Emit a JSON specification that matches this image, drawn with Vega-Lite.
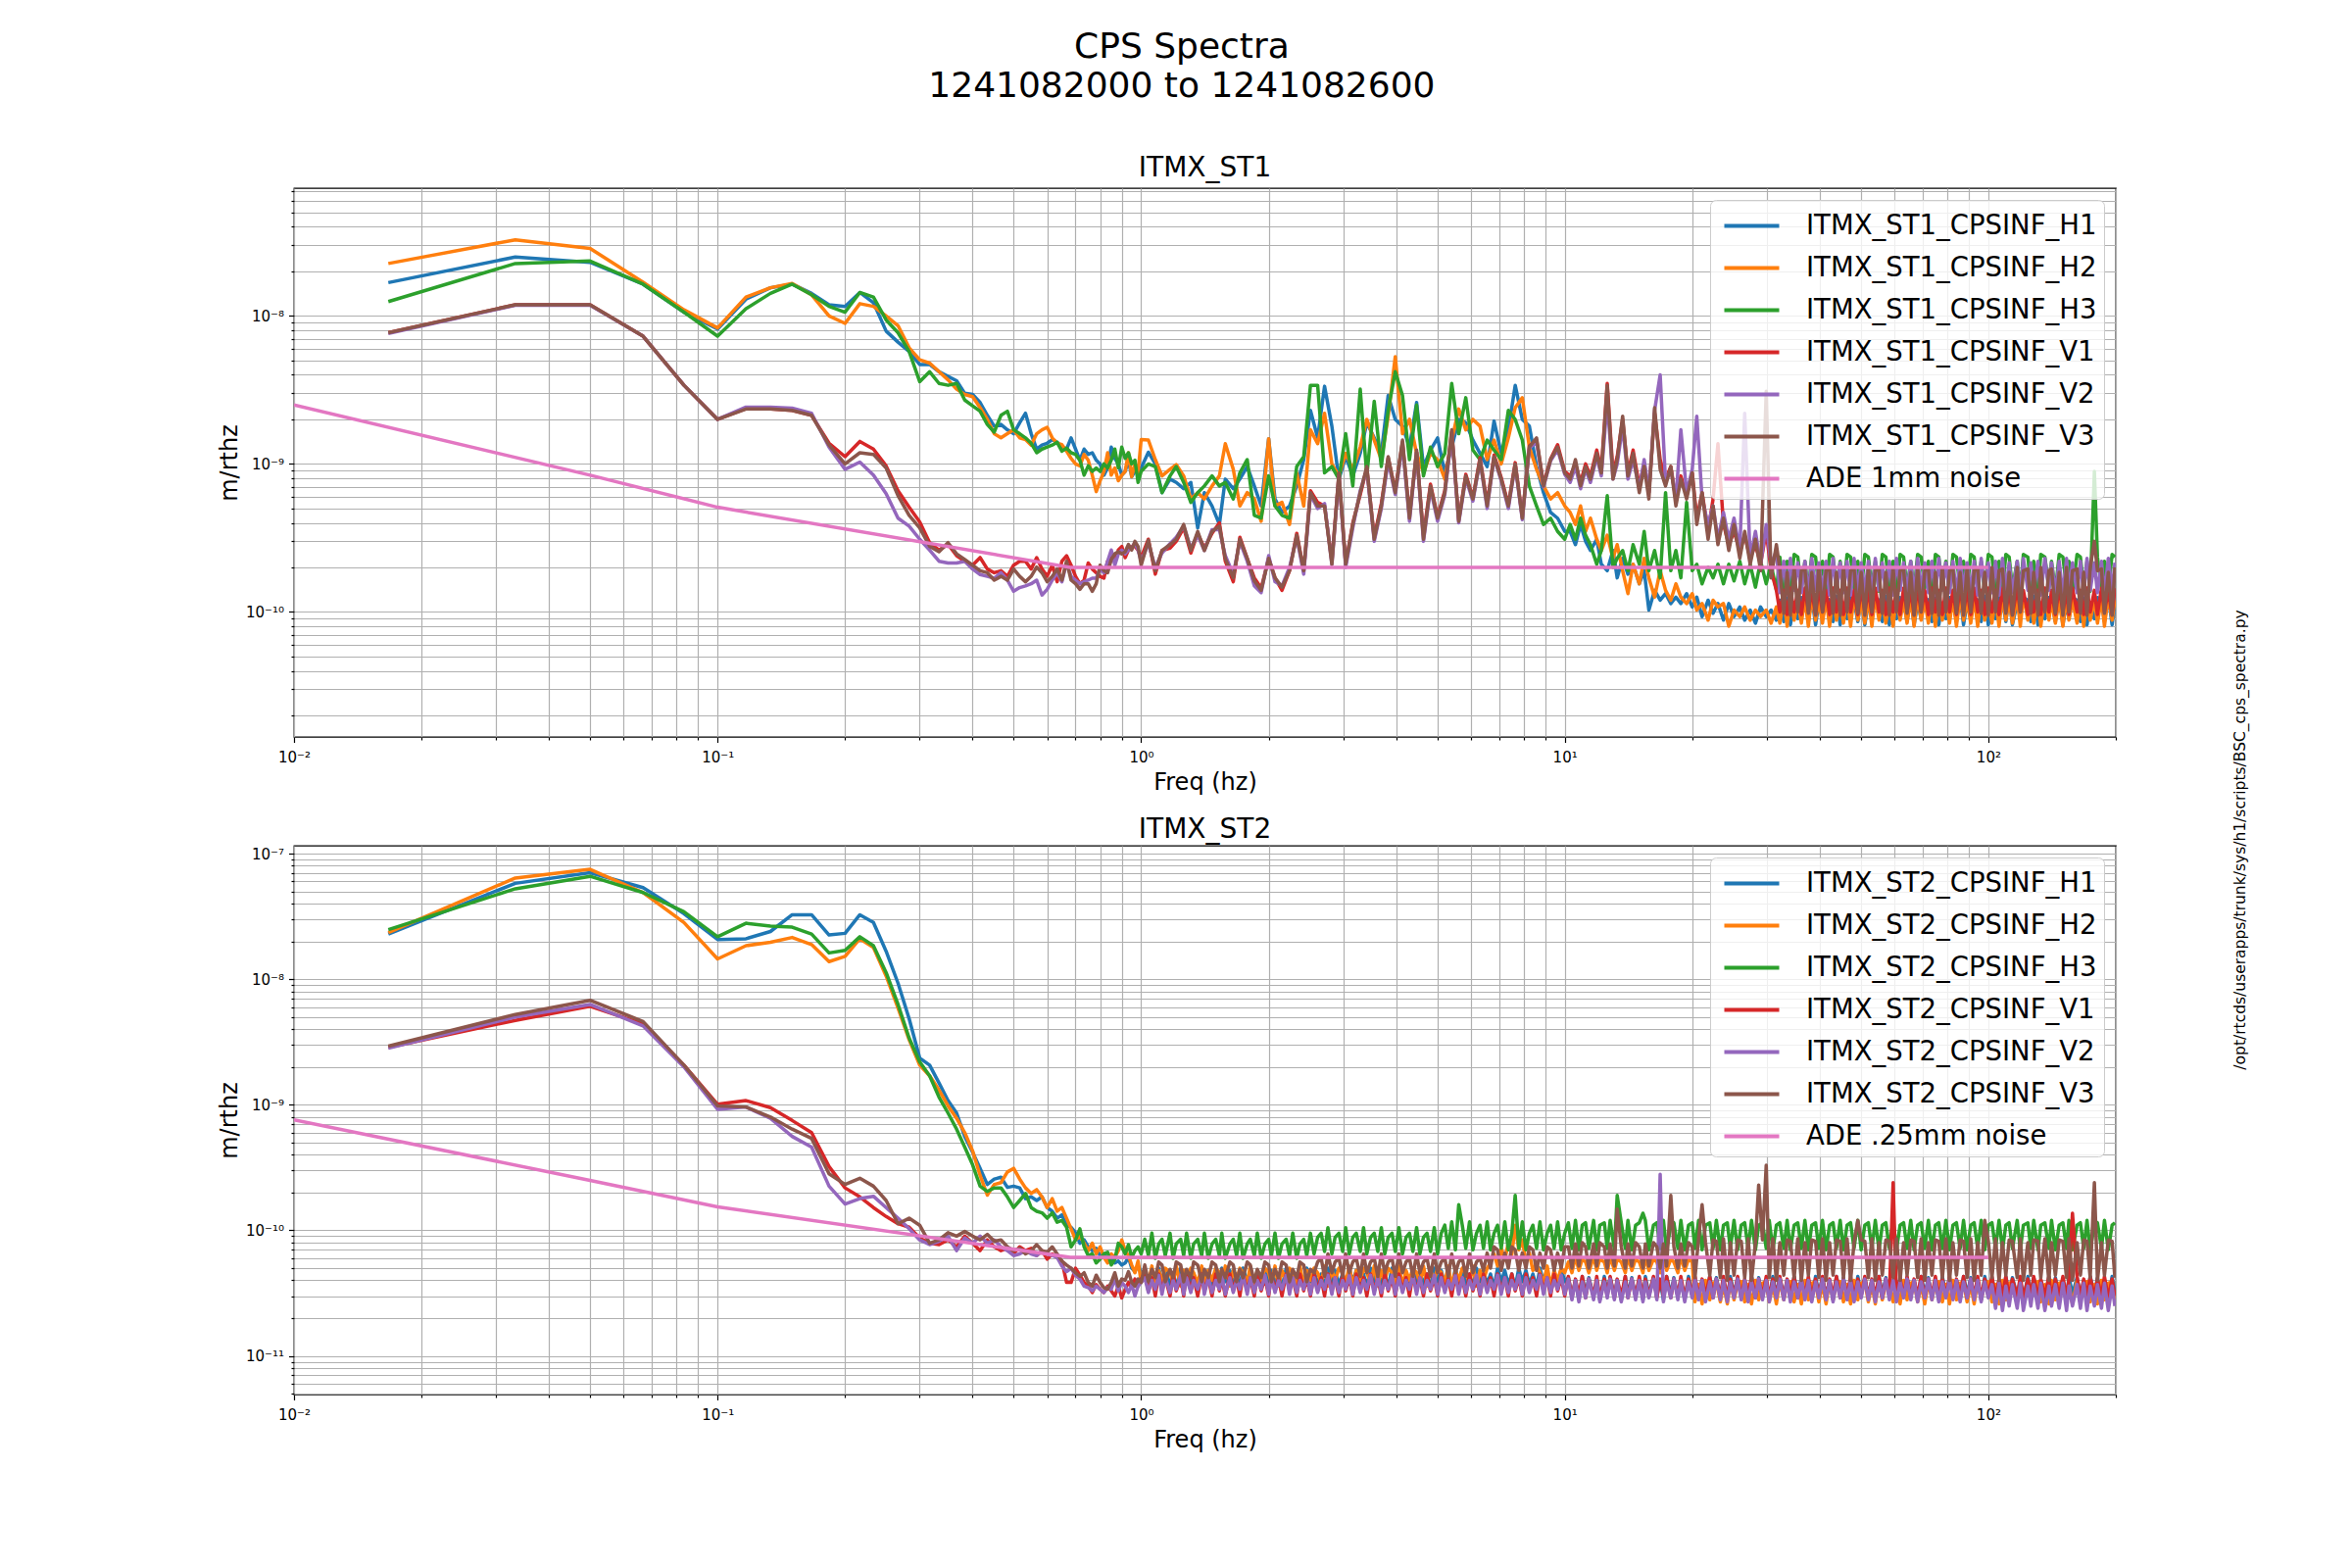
{
  "$schema": "https://vega.github.io/schema/vega-lite/v6.json",
  "background": "white",
  "padding": {"left": 221, "top": 30, "right": 10, "bottom": 10},
  "title": {
    "text": ["CPS Spectra", "1241082000 to 1241082600"],
    "fontSize": 36,
    "lineHeight": 40,
    "fontWeight": "normal",
    "anchor": "middle",
    "offset": 50,
    "dx": -53
  },
  "config": {
    "font": "DejaVu Sans",
    "view": {"stroke": "black", "strokeWidth": 1.3},
    "axis": {
      "domain": false,
      "grid": true,
      "gridColor": "#b0b0b0",
      "gridWidth": 1.2,
      "tickColor": "black",
      "tickWidth": 1.2,
      "labelColor": "black",
      "labelFontSize": 15,
      "labelOverlap": false,
      "labelFlush": false,
      "titleFontSize": 24,
      "titleFontWeight": "normal",
      "titleColor": "black"
    },
    "axisX": {"labelPadding": 8},
    "axisY": {"labelPadding": 5},
    "title": {"fontWeight": "normal", "color": "black"},
    "legend": {
      "title": null,
      "orient": "top-right",
      "offset": 12,
      "labelFontSize": 27.5,
      "labelColor": "black",
      "labelLimit": 0,
      "symbolType": "M-1.6,0H1.6",
      "symbolSize": 1225,
      "symbolStrokeWidth": 4,
      "symbolOffset": 16,
      "labelOffset": 36,
      "rowPadding": 10,
      "padding": 7,
      "fillColor": "rgba(255,255,255,0.8)",
      "strokeColor": "#cccccc",
      "cornerRadius": 6
    }
  },
  "datasets": {
    "ade1": [
      {"f": 0.01, "v": 2.5e-9, "s": "ADE"},
      {"f": 0.05, "v": 8.4e-10, "s": "ADE"},
      {"f": 0.1, "v": 5.1e-10, "s": "ADE"},
      {"f": 0.68, "v": 2.0e-10, "s": "ADE"},
      {"f": 100, "v": 2.0e-10, "s": "ADE"}
    ],
    "ade2": [
      {"f": 0.01, "v": 7.6e-10, "s": "ADE"},
      {"f": 0.05, "v": 2.5e-10, "s": "ADE"},
      {"f": 0.1, "v": 1.54e-10, "s": "ADE"},
      {"f": 0.68, "v": 6.1e-11, "s": "ADE"},
      {"f": 100, "v": 6.1e-11, "s": "ADE"}
    ],
    "st1": [
      {"f":0.0167,"H1":1.68e-8,"H2":2.26e-8,"H3":1.25e-8,"V1":7.7e-9,"V2":7.6e-9,"V3":7.7e-9},
      {"f":0.0333,"H1":2.5e-8,"H2":3.27e-8,"H3":2.26e-8,"V1":1.19e-8,"V2":1.18e-8,"V3":1.19e-8},
      {"f":0.05,"H1":2.3e-8,"H2":2.86e-8,"H3":2.35e-8,"V1":1.19e-8,"V2":1.18e-8,"V3":1.19e-8},
      {"f":0.0667,"H1":1.64e-8,"H2":1.69e-8,"H3":1.64e-8,"V1":7.3e-9,"V2":7.3e-9,"V3":7.3e-9},
      {"f":0.0833,"H1":1.06e-8,"H2":1.1e-8,"H3":1.06e-8,"V1":3.4e-9,"V2":3.4e-9,"V3":3.4e-9},
      {"f":0.1,"H1":8.15e-9,"H2":8.3e-9,"H3":7.3e-9,"V1":2.0e-9,"V2":2.0e-9,"V3":2.0e-9},
      {"f":0.1167,"H1":1.3e-8,"H2":1.34e-8,"H3":1.12e-8,"V1":2.37e-9,"V2":2.42e-9,"V3":2.35e-9},
      {"f":0.1333,"H1":1.55e-8,"H2":1.55e-8,"H3":1.42e-8,"V1":2.35e-9,"V2":2.42e-9,"V3":2.35e-9},
      {"f":0.15,"H1":1.64e-8,"H2":1.66e-8,"H3":1.64e-8,"V1":2.3e-9,"V2":2.38e-9,"V3":2.3e-9},
      {"f":0.1667,"H1":1.42e-8,"H2":1.39e-8,"H3":1.39e-8,"V1":2.13e-9,"V2":2.2e-9,"V3":2.13e-9},
      {"f":0.1833,"H1":1.19e-8,"H2":1.0e-8,"H3":1.16e-8,"V1":1.38e-9,"V2":1.3e-9,"V3":1.34e-9},
      {"f":0.2,"H1":1.16e-8,"H2":8.9e-9,"H3":1.06e-8,"V1":1.12e-9,"V2":9.2e-10,"V3":1.0e-9},
      {"f":0.2167,"H1":1.44e-8,"H2":1.21e-8,"H3":1.44e-8,"V1":1.42e-9,"V2":1.03e-9,"V3":1.19e-9},
      {"f":0.2333,"H1":1.23e-8,"H2":1.16e-8,"H3":1.34e-8,"V1":1.26e-9,"V2":8.4e-10,"V3":1.16e-9},
      {"f":0.25,"H1":7.9e-9,"H2":1.0e-8,"H3":9.4e-9,"V1":9.7e-10,"V2":6.3e-10,"V3":9.4e-10},
      {"f":0.2667,"H1":6.65e-9,"H2":8.6e-9,"H3":7.7e-9,"V1":6.6e-10,"V2":4.3e-10,"V3":6.1e-10},
      {"f":0.2833,"H1":5.75e-9,"H2":6.1e-9,"H3":5.75e-9,"V1":5.1e-10,"V2":3.8e-10,"V3":4.5e-10},
      {"f":0.3,"H1":4.7e-9,"H2":5.05e-9,"H3":3.6e-9,"V1":4.06e-10,"V2":3.1e-10,"V3":3.7e-10},
      {"f":0.3167,"H1":4.7e-9,"H2":4.8e-9,"H3":4.2e-9,"V1":2.94e-10,"V2":2.62e-10,"V3":2.78e-10},
      {"f":0.3333,"H1":4.2e-9,"H2":4.2e-9,"H3":3.5e-9,"V1":2.62e-10,"V2":2.2e-10,"V3":2.55e-10},
      {"f":0.35,"H1":3.9e-9,"H2":3.7e-9,"H3":3.4e-9,"V1":2.86e-10,"V2":2.14e-10,"V3":2.94e-10},
      {"f":0.3667,"H1":3.65e-9,"H2":3.2e-9,"H3":3.5e-9,"V1":2.4e-10,"V2":2.14e-10,"V3":2.47e-10},
      {"f":0.3833,"H1":3.0e-9,"H2":2.95e-9,"H3":2.7e-9,"V1":2.2e-10,"V2":2.2e-10,"V3":2.26e-10},
      {"f":0.4,"H1":2.95e-9,"H2":2.85e-9,"H3":2.47e-9,"V1":2.07e-10,"V2":1.95e-10,"V3":2.07e-10},
      {"f":0.4167,"H1":2.6e-9,"H2":2.4e-9,"H3":2.27e-9,"V1":2.33e-10,"V2":1.79e-10,"V3":1.9e-10},
      {"f":0.4333,"H1":2.13e-9,"H2":2.0e-9,"H3":1.85e-9,"V1":1.95e-10,"V2":1.74e-10,"V3":1.84e-10},
      {"f":0.45,"H1":1.8e-9,"H2":1.6e-9,"H3":1.64e-9,"V1":1.84e-10,"V2":1.69e-10,"V3":1.64e-10},
      {"f":0.4667,"H1":1.85e-9,"H2":1.5e-9,"H3":2.13e-9,"V1":1.9e-10,"V2":1.84e-10,"V3":1.74e-10},
      {"f":0.4833,"H1":1.7e-9,"H2":1.6e-9,"H3":2.27e-9,"V1":1.74e-10,"V2":1.64e-10,"V3":1.64e-10},
      {"f":0.5,"H1":1.6e-9,"H2":1.7e-9,"H3":1.7e-9,"V1":2.07e-10,"V2":1.38e-10,"V3":1.95e-10},
      {"f":0.5167,"H1":1.9e-9,"H2":1.5e-9,"H3":1.6e-9,"V1":2.2e-10,"V2":1.46e-10,"V3":1.74e-10},
      {"f":0.5333,"H1":2.2e-9,"H2":1.46e-9,"H3":1.5e-9,"V1":2.2e-10,"V2":1.5e-10,"V3":1.6e-10},
      {"f":0.55,"H1":1.6e-9,"H2":1.34e-9,"H3":1.38e-9,"V1":1.95e-10,"V2":1.55e-10,"V3":1.74e-10},
      {"f":0.5667,"H1":1.26e-9,"H2":1.6e-9,"H3":1.19e-9,"V1":2.33e-10,"V2":1.64e-10,"V3":2.01e-10},
      {"f":0.5833,"H1":1.34e-9,"H2":1.7e-9,"H3":1.26e-9,"V1":1.95e-10,"V2":1.3e-10,"V3":1.84e-10},
      {"f":0.6,"H1":1.38e-9,"H2":1.77e-9,"H3":1.3e-9,"V1":1.74e-10,"V2":1.42e-10,"V3":1.6e-10},
      {"f":0.6167,"H1":1.46e-9,"H2":1.5e-9,"H3":1.34e-9,"V1":2.07e-10,"V2":1.64e-10,"V3":1.74e-10},
      {"f":0.6333,"H1":1.4e-9,"H2":1.38e-9,"H3":1.4e-9,"V1":1.6e-10,"V2":1.84e-10,"V3":1.95e-10},
      {"f":0.65,"H1":1.3e-9,"H2":1.35e-9,"H3":1.22e-9,"V1":2.2e-10,"V2":1.6e-10,"V3":1.64e-10},
      {"f":0.6667,"H1":1.26e-9,"H2":1.22e-9,"H3":1.28e-9,"V1":2.4e-10,"V2":2.14e-10,"V3":2.2e-10},
      {"f":0.6833,"H1":1.5e-9,"H2":1.09e-9,"H3":1.19e-9,"V1":2.07e-10,"V2":1.74e-10,"V3":1.64e-10},
      {"f":0.7,"H1":1.26e-9,"H2":1.0e-9,"H3":1.16e-9,"V1":1.74e-10,"V2":1.64e-10,"V3":1.55e-10},
      {"f":0.7167,"H1":1.06e-9,"H2":9.7e-10,"H3":1.06e-9,"V1":1.55e-10,"V2":1.55e-10,"V3":1.42e-10},
      {"f":0.7333,"H1":1.26e-9,"H2":1.16e-9,"H3":8.4e-10,"V1":1.64e-10,"V2":1.6e-10,"V3":1.55e-10},
      {"f":0.75,"H1":1.16e-9,"H2":1.06e-9,"H3":9.7e-10,"V1":2.14e-10,"V2":1.64e-10,"V3":1.55e-10},
      {"f":0.7667,"H1":1.19e-9,"H2":8.4e-10,"H3":8.9e-10,"V1":1.95e-10,"V2":1.69e-10,"V3":1.38e-10},
      {"f":0.7833,"H1":1.06e-9,"H2":6.5e-10,"H3":9.4e-10,"V1":1.84e-10,"V2":1.69e-10,"V3":1.55e-10},
      {"f":0.8,"H1":1.0e-9,"H2":7.7e-10,"H3":8.9e-10,"V1":1.74e-10,"V2":1.95e-10,"V3":2.07e-10},
      {"f":0.8167,"H1":8.4e-10,"H2":8.9e-10,"H3":1.0e-9,"V1":1.69e-10,"V2":1.84e-10,"V3":1.9e-10},
      {"f":0.8333,"H1":9.4e-10,"H2":1.19e-9,"H3":9.4e-10,"V1":2.2e-10,"V2":2.2e-10,"V3":1.84e-10},
      {"f":0.85,"H1":1.3e-9,"H2":8.4e-10,"H3":1.06e-9,"V1":2.33e-10,"V2":2.62e-10,"V3":2.26e-10},
      {"f":0.8667,"H1":1.09e-9,"H2":9.4e-10,"H3":1.26e-9,"V1":2.2e-10,"V2":2.07e-10,"V3":2.47e-10},
      {"f":0.8833,"H1":1.0e-9,"H2":7.7e-10,"H3":9.4e-10,"V1":2.62e-10,"V2":2.47e-10,"V3":2.55e-10},
      {"f":0.9,"H1":8.4e-10,"H2":8.4e-10,"H3":1.3e-9,"V1":2.77e-10,"V2":2.62e-10,"V3":2.47e-10},
      {"f":0.9167,"H1":8.9e-10,"H2":8.9e-10,"H3":1.09e-9,"V1":2.33e-10,"V2":2.47e-10,"V3":2.55e-10},
      {"f":0.9333,"H1":1.06e-9,"H2":1.19e-9,"H3":1.19e-9,"V1":2.62e-10,"V2":2.62e-10,"V3":2.86e-10},
      {"f":0.95,"H1":8.2e-10,"H2":8.2e-10,"H3":1.0e-9,"V1":2.77e-10,"V2":2.7e-10,"V3":2.62e-10},
      {"f":0.9667,"H1":8.9e-10,"H2":1.0e-9,"H3":1.06e-9,"V1":2.77e-10,"V2":2.94e-10,"V3":3.0e-10},
      {"f":0.9833,"H1":8.9e-10,"H2":8.7e-10,"H3":7.5e-10,"V1":2.62e-10,"V2":2.62e-10,"V3":2.77e-10},
      {"f":1.0,"H1":9.4e-10,"H2":1.46e-9,"H3":8.9e-10,"V1":2.33e-10,"V2":2.2e-10,"V3":2.07e-10},
      {"f":1.04,"H1":1.2e-9,"H2":1.45e-9,"H3":1.0e-9,"V1":3.1e-10,"V2":2.9e-10,"V3":3.05e-10},
      {"f":1.08,"H1":1.0e-9,"H2":1.07e-9,"H3":9.6e-10,"V1":1.8e-10,"V2":2.0e-10,"V3":1.9e-10},
      {"f":1.12,"H1":6.4e-10,"H2":8.3e-10,"H3":6.4e-10,"V1":2.6e-10,"V2":2.5e-10,"V3":2.6e-10},
      {"f":1.17,"H1":7.9e-10,"H2":9.2e-10,"H3":8.3e-10,"V1":2.7e-10,"V2":2.9e-10,"V3":2.85e-10},
      {"f":1.21,"H1":7.5e-10,"H2":9.9e-10,"H3":9.6e-10,"V1":3.0e-10,"V2":3.2e-10,"V3":3.1e-10},
      {"f":1.26,"H1":6.8e-10,"H2":8.3e-10,"H3":7.5e-10,"V1":3.7e-10,"V2":3.8e-10,"V3":3.9e-10},
      {"f":1.31,"H1":7.5e-10,"H2":5.8e-10,"H3":5.5e-10,"V1":2.5e-10,"V2":2.7e-10,"V3":2.6e-10},
      {"f":1.36,"H1":3.7e-10,"H2":6.4e-10,"H3":6.4e-10,"V1":3.4e-10,"V2":3.3e-10,"V3":3.5e-10},
      {"f":1.41,"H1":6.4e-10,"H2":5.8e-10,"H3":7.1e-10,"V1":2.7e-10,"V2":2.6e-10,"V3":2.6e-10},
      {"f":1.47,"H1":5.2e-10,"H2":7.1e-10,"H3":8.3e-10,"V1":3.4e-10,"V2":3.6e-10,"V3":3.5e-10},
      {"f":1.53,"H1":3.9e-10,"H2":8.3e-10,"H3":7.1e-10,"V1":4.0e-10,"V2":3.6e-10,"V3":3.8e-10},
      {"f":1.58,"H1":7.9e-10,"H2":1.37e-9,"H3":7.5e-10,"V1":2.2e-10,"V2":2.4e-10,"V3":2.3e-10},
      {"f":1.65,"H1":6.8e-10,"H2":9.2e-10,"H3":5.8e-10,"V1":1.6e-10,"V2":1.8e-10,"V3":1.7e-10},
      {"f":1.71,"H1":7.9e-10,"H2":5.2e-10,"H3":8.7e-10,"V1":3.2e-10,"V2":3.0e-10,"V3":3.1e-10},
      {"f":1.78,"H1":9.6e-10,"H2":6.4e-10,"H3":1.07e-9,"V1":2.3e-10,"V2":2.2e-10,"V3":2.3e-10},
      {"f":1.85,"H1":7.1e-10,"H2":5.8e-10,"H3":4.5e-10,"V1":1.7e-10,"V2":1.5e-10,"V3":1.62e-10},
      {"f":1.92,"H1":5.2e-10,"H2":4.1e-10,"H3":4.3e-10,"V1":1.45e-10,"V2":1.35e-10,"V3":1.4e-10},
      {"f":2.0,"H1":1.48e-9,"H2":1.48e-9,"H3":8.3e-10,"V1":2.3e-10,"V2":2.4e-10,"V3":2.3e-10},
      {"f":2.07,"H1":5.8e-10,"H2":5.2e-10,"H3":5.2e-10,"V1":1.7e-10,"V2":1.6e-10,"V3":1.7e-10},
      {"f":2.15,"H1":4.7e-10,"H2":5.5e-10,"H3":4.5e-10,"V1":1.4e-10,"V2":1.5e-10,"V3":1.47e-10},
      {"f":2.24,"H1":5.2e-10,"H2":3.9e-10,"H3":4.3e-10,"V1":1.9e-10,"V2":2.0e-10,"V3":1.9e-10},
      {"f":2.33,"H1":7.1e-10,"H2":8.7e-10,"H3":9.6e-10,"V1":3.4e-10,"V2":3.2e-10,"V3":3.3e-10},
      {"f":2.42,"H1":1.07e-9,"H2":5.2e-10,"H3":1.12e-9,"V1":1.9e-10,"V2":1.8e-10,"V3":1.9e-10},
      {"f":2.51,"H1":2.3e-9,"H2":1.7e-9,"H3":3.4e-9,"V1":6.6e-10,"V2":6.2e-10,"V3":6.4e-10},
      {"f":2.61,"H1":1.5e-9,"H2":1.37e-9,"H3":3.4e-9,"V1":5.5e-10,"V2":5.0e-10,"V3":5.2e-10},
      {"f":2.71,"H1":3.35e-9,"H2":2.2e-9,"H3":8.7e-10,"V1":5.2e-10,"V2":5.4e-10,"V3":5.2e-10},
      {"f":2.82,"H1":1.8e-9,"H2":1.0e-9,"H3":9.6e-10,"V1":2.2e-10,"V2":2.1e-10,"V3":2.1e-10},
      {"f":2.93,"H1":7.9e-10,"H2":8.3e-10,"H3":7.9e-10,"V1":8.5e-10,"V2":8.3e-10,"V3":8.7e-10},
      {"f":3.04,"H1":1.12e-9,"H2":1.18e-9,"H3":1.6e-9,"V1":2.1e-10,"V2":2.0e-10,"V3":2.1e-10},
      {"f":3.16,"H1":8.3e-10,"H2":9.2e-10,"H3":7.1e-10,"V1":4.0e-10,"V2":3.7e-10,"V3":3.9e-10},
      {"f":3.29,"H1":1.18e-9,"H2":1.3e-9,"H3":3.2e-9,"V1":6.2e-10,"V2":6.6e-10,"V3":6.4e-10},
      {"f":3.41,"H1":1.9e-9,"H2":2.0e-9,"H3":8.3e-10,"V1":9.4e-10,"V2":9.2e-10,"V3":9.6e-10},
      {"f":3.55,"H1":1.5e-9,"H2":1.45e-9,"H3":2.65e-9,"V1":3.2e-10,"V2":3.0e-10,"V3":3.1e-10},
      {"f":3.69,"H1":1.18e-9,"H2":1.07e-9,"H3":9.6e-10,"V1":5.4e-10,"V2":5.0e-10,"V3":5.2e-10},
      {"f":3.83,"H1":2.9e-9,"H2":2.1e-9,"H3":2.3e-9,"V1":1.1e-9,"V2":1.05e-9,"V3":1.12e-9},
      {"f":3.98,"H1":2.0e-9,"H2":5.3e-9,"H3":4.2e-9,"V1":6.6e-10,"V2":6.2e-10,"V3":6.4e-10},
      {"f":4.14,"H1":1.8e-9,"H2":1.6e-9,"H3":2.9e-9,"V1":1.4e-9,"V2":1.35e-9,"V3":1.45e-9},
      {"f":4.3,"H1":1.3e-9,"H2":2.0e-9,"H3":1.07e-9,"V1":4.5e-10,"V2":4.1e-10,"V3":4.3e-10},
      {"f":4.47,"H1":2.6e-9,"H2":1.18e-9,"H3":2.5e-9,"V1":1.2e-9,"V2":1.2e-9,"V3":1.24e-9},
      {"f":4.64,"H1":9.6e-10,"H2":8.7e-10,"H3":8.3e-10,"V1":3.3e-10,"V2":3.0e-10,"V3":3.1e-10},
      {"f":4.82,"H1":1.24e-9,"H2":1.18e-9,"H3":1.3e-9,"V1":7.3e-10,"V2":6.8e-10,"V3":7.1e-10},
      {"f":5.01,"H1":1.5e-9,"H2":1.07e-9,"H3":9.6e-10,"V1":4.4e-10,"V2":4.1e-10,"V3":4.3e-10},
      {"f":5.21,"H1":8.7e-10,"H2":7.9e-10,"H3":1.18e-9,"V1":6.6e-10,"V2":6.2e-10,"V3":6.4e-10},
      {"f":5.41,"H1":1.3e-9,"H2":1.45e-9,"H3":3.5e-9,"V1":1.65e-9,"V2":1.6e-9,"V3":1.7e-9},
      {"f":5.62,"H1":2.0e-9,"H2":2.35e-9,"H3":1.6e-9,"V1":4.2e-10,"V2":4.0e-10,"V3":4.1e-10},
      {"f":5.84,"H1":1.9e-9,"H2":1.7e-9,"H3":2.8e-9,"V1":8.5e-10,"V2":8.0e-10,"V3":8.3e-10},
      {"f":6.07,"H1":1.45e-9,"H2":2.0e-9,"H3":1.24e-9,"V1":5.9e-10,"V2":5.6e-10,"V3":5.8e-10},
      {"f":6.31,"H1":1.18e-9,"H2":1.8e-9,"H3":1.07e-9,"V1":1.1e-9,"V2":1.05e-9,"V3":1.07e-9},
      {"f":6.56,"H1":9.6e-10,"H2":1.07e-9,"H3":1.45e-9,"V1":5.4e-10,"V2":5.0e-10,"V3":5.2e-10},
      {"f":6.81,"H1":1.95e-9,"H2":1.45e-9,"H3":1.24e-9,"V1":1.15e-9,"V2":1.1e-9,"V3":1.12e-9},
      {"f":7.08,"H1":1.18e-9,"H2":1.0e-9,"H3":1.07e-9,"V1":8.1e-10,"V2":7.7e-10,"V3":7.9e-10},
      {"f":7.36,"H1":1.7e-9,"H2":1.5e-9,"H3":2.3e-9,"V1":5.3e-10,"V2":5.0e-10,"V3":5.2e-10},
      {"f":7.64,"H1":3.4e-9,"H2":2.4e-9,"H3":2.0e-9,"V1":1.02e-9,"V2":9.8e-10,"V3":1.0e-9},
      {"f":7.94,"H1":2.0e-9,"H2":2.8e-9,"H3":1.45e-9,"V1":4.4e-10,"V2":4.2e-10,"V3":4.3e-10},
      {"f":8.25,"H1":1.8e-9,"H2":1.3e-9,"H3":7.1e-10,"V1":1.32e-9,"V2":1.28e-9,"V3":1.3e-9},
      {"f":8.58,"H1":9.6e-10,"H2":9.2e-10,"H3":5.2e-10,"V1":1.45e-9,"V2":1.4e-9,"V3":1.5e-9},
      {"f":8.91,"H1":6.4e-10,"H2":7.1e-10,"H3":3.9e-10,"V1":7.3e-10,"V2":7.0e-10,"V3":7.1e-10},
      {"f":9.26,"H1":4.7e-10,"H2":5.8e-10,"H3":4.3e-10,"V1":1.08e-9,"V2":1.05e-9,"V3":1.07e-9},
      {"f":9.62,"H1":4.3e-10,"H2":6.4e-10,"H3":3.5e-10,"V1":1.35e-9,"V2":1.25e-9,"V3":1.3e-9},
      {"f":10,"H1":3.5e-10,"H2":5.2e-10,"H3":3.1e-10,"V1":8.9e-10,"V2":8.5e-10,"V3":8.7e-10},
      {"f":10.3,"H1":3.5e-10,"H2":4.7e-10,"H3":3.9e-10,"V1":8.3e-10,"V2":7.5e-10,"V3":7.9e-10},
      {"f":10.6,"H1":2.85e-10,"H2":3.9e-10,"H3":3.1e-10,"V1":1.0e-9,"V2":9.6e-10,"V3":1.07e-9},
      {"f":10.9,"H1":3.9e-10,"H2":5.2e-10,"H3":4.3e-10,"V1":7.5e-10,"V2":6.8e-10,"V3":7.1e-10},
      {"f":11.2,"H1":3.0e-10,"H2":3.5e-10,"H3":3.3e-10,"V1":1.0e-9,"V2":9.2e-10,"V3":9.6e-10},
      {"f":11.5,"H1":2.6e-10,"H2":4.3e-10,"H3":2.85e-10,"V1":8.3e-10,"V2":7.5e-10,"V3":7.9e-10},
      {"f":11.9,"H1":3.1e-10,"H2":3.1e-10,"H3":2.1e-10,"V1":1.24e-9,"V2":1.12e-9,"V3":1.18e-9},
      {"f":12.2,"H1":2.1e-10,"H2":2.6e-10,"H3":2.6e-10,"V1":9.2e-10,"V2":8.3e-10,"V3":8.7e-10},
      {"f":12.6,"H1":1.9e-10,"H2":3.3e-10,"H3":6.1e-10,"V1":3.5e-9,"V2":2.65e-9,"V3":3.4e-9},
      {"f":13.0,"H1":2.6e-10,"H2":2.3e-10,"H3":2.0e-10,"V1":8.7e-10,"V2":7.9e-10,"V3":7.9e-10},
      {"f":13.3,"H1":1.7e-10,"H2":2.85e-10,"H3":2.3e-10,"V1":1.12e-9,"V2":1.0e-9,"V3":1.07e-9},
      {"f":13.7,"H1":2.3e-10,"H2":1.9e-10,"H3":2.6e-10,"V1":2.0e-9,"V2":1.8e-9,"V3":2.1e-9},
      {"f":14.1,"H1":1.8e-10,"H2":1.33e-10,"H3":1.9e-10,"V1":8.7e-10,"V2":7.9e-10,"V3":8.3e-10},
      {"f":14.5,"H1":2.1e-10,"H2":2.1e-10,"H3":2.85e-10,"V1":1.24e-9,"V2":1.07e-9,"V3":1.18e-9},
      {"f":15.0,"H1":1.55e-10,"H2":1.55e-10,"H3":2.1e-10,"V1":7.1e-10,"V2":6.8e-10,"V3":6.4e-10},
      {"f":15.4,"H1":1.9e-10,"H2":2.3e-10,"H3":3.5e-10,"V1":1.0e-9,"V2":1.07e-9,"V3":9.6e-10},
      {"f":15.8,"H1":1.03e-10,"H2":1.7e-10,"H3":1.9e-10,"V1":6.4e-10,"V2":6.4e-10,"V3":5.8e-10},
      {"f":16.3,"H1":1.4e-10,"H2":1.26e-10,"H3":2.6e-10,"V1":2.2e-9,"V2":2.3e-9,"V3":2.4e-9},
      {"f":16.8,"H1":1.2e-10,"H2":1.9e-10,"H3":1.7e-10,"V1":1.07e-9,"V2":4.0e-9,"V3":9.2e-10},
      {"f":17.3,"H1":1.33e-10,"H2":1.4e-10,"H3":6.4e-10,"V1":7.9e-10,"V2":7.5e-10,"V3":7.1e-10},
      {"f":17.8,"H1":1.14e-10,"H2":1.2e-10,"H3":1.9e-10,"V1":9.6e-10,"V2":9.2e-10,"V3":9.6e-10},
      {"f":18.3,"H1":1.26e-10,"H2":1.55e-10,"H3":2.6e-10,"V1":5.8e-10,"V2":5.8e-10,"V3":5.2e-10},
      {"f":18.8,"H1":1.14e-10,"H2":1.26e-10,"H3":1.7e-10,"V1":8.3e-10,"V2":1.7e-9,"V3":7.9e-10},
      {"f":19.4,"H1":1.33e-10,"H2":1.14e-10,"H3":5.5e-10,"V1":6.1e-10,"V2":6.4e-10,"V3":5.8e-10},
      {"f":20.0,"H1":1.08e-10,"H2":1.33e-10,"H3":1.9e-10,"V1":8.7e-10,"V2":9.2e-10,"V3":8.7e-10},
      {"f":20.5,"H1":1.26e-10,"H2":1.03e-10,"H3":2.1e-10,"V1":4.3e-10,"V2":2.1e-9,"V3":3.9e-10},
      {"f":21.1,"H1":9.3e-11,"H2":1.14e-10,"H3":1.55e-10,"V1":6.4e-10,"V2":5.8e-10,"V3":6.4e-10},
      {"f":21.8,"H1":1.2e-10,"H2":8.8e-11,"H3":2.0e-10,"V1":3.5e-10,"V2":3.9e-10,"V3":3.1e-10},
      {"f":22.4,"H1":9.8e-11,"H2":1.2e-10,"H3":1.7e-10,"V1":5.8e-10,"V2":5.2e-10,"V3":5.2e-10},
      {"f":23.0,"H1":1.14e-10,"H2":1.08e-10,"H3":2.1e-10,"V1":1.37e-9,"V2":3.1e-10,"V3":2.85e-10},
      {"f":23.7,"H1":8.8e-11,"H2":1.14e-10,"H3":1.55e-10,"V1":3.9e-10,"V2":4.7e-10,"V3":4.3e-10},
      {"f":24.4,"H1":1.14e-10,"H2":8.0e-11,"H3":2.1e-10,"V1":2.85e-10,"V2":3.1e-10,"V3":2.6e-10},
      {"f":25.1,"H1":9.3e-11,"H2":1.03e-10,"H3":1.62e-10,"V1":3.5e-10,"V2":4.3e-10,"V3":3.9e-10},
      {"f":25.9,"H1":1.08e-10,"H2":9.3e-11,"H3":2.2e-10,"V1":2.6e-10,"V2":2.6e-10,"V3":2.3e-10},
      {"f":26.6,"H1":8.8e-11,"H2":1.08e-10,"H3":1.55e-10,"V1":3.3e-10,"V2":2.2e-9,"V3":3.5e-10},
      {"f":27.4,"H1":1.03e-10,"H2":8.8e-11,"H3":2.1e-10,"V1":2.3e-10,"V2":2.3e-10,"V3":2.1e-10},
      {"f":28.2,"H1":8.4e-11,"H2":1.03e-10,"H3":1.47e-10,"V1":2.85e-10,"V2":3.5e-10,"V3":3.1e-10},
      {"f":29.0,"H1":1.08e-10,"H2":9.3e-11,"H3":2.2e-10,"V1":2.1e-10,"V2":2.1e-10,"V3":1.9e-10},
      {"f":29.9,"H1":9.3e-11,"H2":1.03e-10,"H3":1.55e-10,"V1":3.5e-10,"V2":3.9e-10,"V3":3.1e-9},
      {"f":30.7,"H1":1.03e-10,"H2":8.4e-11,"H3":2.1e-10,"V1":1.9e-10,"V2":2.1e-10,"V3":1.7e-10},
      {"f":31.6,"H1":8.8e-11,"H2":1.08e-10,"H3":1.4e-10,"V1":1.4e-10,"V2":2.6e-10,"V3":2.85e-10},
      {"f":32.2,"H1":1.2e-10,"H2":8.4e-11,"H3":2.35e-10,"V1":1.0e-10,"V2":1.35e-10,"V3":1.95e-10},
      {"f":32.9,"H1":8.6e-11,"H2":1.25e-10,"H3":1.45e-10,"V1":1.4e-10,"V2":2.2e-10,"V3":9.8e-11},
      {"f":33.5,"H1":1.28e-10,"H2":8.0e-11,"H3":2.2e-10,"V1":9.6e-11,"V2":1.3e-10,"V3":1.85e-10},
      {"f":34.1,"H1":8.2e-11,"H2":1.3e-10,"H3":1.38e-10,"V1":1.45e-10,"V2":2.3e-10,"V3":9.5e-11},
      {"f":34.8,"H1":1.15e-10,"H2":8.8e-11,"H3":2.45e-10,"V1":1.0e-10,"V2":1.4e-10,"V3":2.0e-10},
      {"f":35.5,"H1":9.0e-11,"H2":1.2e-10,"H3":2.35e-10,"V1":1.4e-10,"V2":2.15e-10,"V3":1.0e-10},
      {"f":36.2,"H1":1.25e-10,"H2":8.4e-11,"H3":1.45e-10,"V1":9.6e-11,"V2":1.35e-10,"V3":1.9e-10},
      {"f":36.9,"H1":1.2e-10,"H2":1.25e-10,"H3":2.2e-10,"V1":1.45e-10,"V2":2.2e-10,"V3":1.95e-10},
      {"f":37.6,"H1":8.6e-11,"H2":8.0e-11,"H3":1.38e-10,"V1":1.0e-10,"V2":1.3e-10,"V3":9.8e-11},
      {"f":38.3,"H1":1.28e-10,"H2":1.3e-10,"H3":2.45e-10,"V1":1.4e-10,"V2":2.3e-10,"V3":1.85e-10},
      {"f":39.1,"H1":8.2e-11,"H2":8.8e-11,"H3":2.35e-10,"V1":9.6e-11,"V2":1.4e-10,"V3":9.5e-11},
      {"f":39.8,"H1":1.15e-10,"H2":1.2e-10,"H3":1.45e-10,"V1":1.45e-10,"V2":2.15e-10,"V3":2.0e-10},
      {"f":40.6,"H1":9.0e-11,"H2":8.4e-11,"H3":2.2e-10,"V1":1.0e-10,"V2":1.35e-10,"V3":1.0e-10},
      {"f":41.4,"H1":1.25e-10,"H2":1.25e-10,"H3":1.38e-10,"V1":1.4e-10,"V2":2.2e-10,"V3":1.9e-10},
      {"f":42.2,"H1":1.2e-10,"H2":8.0e-11,"H3":2.45e-10,"V1":9.6e-11,"V2":1.3e-10,"V3":1.95e-10},
      {"f":43.0,"H1":8.6e-11,"H2":1.3e-10,"H3":2.35e-10,"V1":1.45e-10,"V2":2.3e-10,"V3":9.8e-11},
      {"f":43.8,"H1":1.28e-10,"H2":8.8e-11,"H3":1.45e-10,"V1":1.0e-10,"V2":1.4e-10,"V3":1.85e-10},
      {"f":44.7,"H1":8.2e-11,"H2":1.2e-10,"H3":2.2e-10,"V1":1.4e-10,"V2":2.15e-10,"V3":9.5e-11},
      {"f":45.5,"H1":1.15e-10,"H2":8.4e-11,"H3":1.38e-10,"V1":9.6e-11,"V2":1.35e-10,"V3":2.0e-10},
      {"f":46.4,"H1":9.0e-11,"H2":1.25e-10,"H3":2.45e-10,"V1":1.45e-10,"V2":2.2e-10,"V3":1.0e-10},
      {"f":47.3,"H1":1.25e-10,"H2":8.0e-11,"H3":2.35e-10,"V1":1.0e-10,"V2":1.3e-10,"V3":1.9e-10},
      {"f":48.2,"H1":1.2e-10,"H2":1.3e-10,"H3":1.45e-10,"V1":1.4e-10,"V2":2.3e-10,"V3":1.95e-10},
      {"f":49.2,"H1":8.6e-11,"H2":8.8e-11,"H3":2.2e-10,"V1":9.6e-11,"V2":1.4e-10,"V3":9.8e-11},
      {"f":50.1,"H1":1.28e-10,"H2":1.2e-10,"H3":1.38e-10,"V1":1.45e-10,"V2":2.15e-10,"V3":1.85e-10},
      {"f":51.1,"H1":8.2e-11,"H2":8.4e-11,"H3":2.45e-10,"V1":1.0e-10,"V2":1.35e-10,"V3":9.5e-11},
      {"f":52.1,"H1":1.15e-10,"H2":1.25e-10,"H3":2.35e-10,"V1":1.4e-10,"V2":2.2e-10,"V3":2.0e-10},
      {"f":53.1,"H1":9.0e-11,"H2":8.0e-11,"H3":1.45e-10,"V1":9.6e-11,"V2":1.3e-10,"V3":1.0e-10},
      {"f":54.1,"H1":1.25e-10,"H2":1.3e-10,"H3":2.2e-10,"V1":1.45e-10,"V2":2.3e-10,"V3":1.9e-10},
      {"f":55.2,"H1":1.2e-10,"H2":8.8e-11,"H3":1.38e-10,"V1":1.0e-10,"V2":1.4e-10,"V3":1.95e-10},
      {"f":56.2,"H1":8.6e-11,"H2":1.2e-10,"H3":2.45e-10,"V1":1.4e-10,"V2":2.15e-10,"V3":9.8e-11},
      {"f":57.3,"H1":1.28e-10,"H2":8.4e-11,"H3":2.35e-10,"V1":9.6e-11,"V2":1.35e-10,"V3":1.85e-10},
      {"f":58.4,"H1":8.2e-11,"H2":1.25e-10,"H3":1.45e-10,"V1":1.45e-10,"V2":2.2e-10,"V3":9.5e-11},
      {"f":59.6,"H1":1.15e-10,"H2":8.0e-11,"H3":2.2e-10,"V1":1.0e-10,"V2":1.3e-10,"V3":2.0e-10},
      {"f":60.7,"H1":9.0e-11,"H2":1.3e-10,"H3":1.38e-10,"V1":1.4e-10,"V2":2.3e-10,"V3":1.0e-10},
      {"f":61.9,"H1":1.25e-10,"H2":8.8e-11,"H3":2.45e-10,"V1":9.6e-11,"V2":1.4e-10,"V3":1.9e-10},
      {"f":63.1,"H1":1.2e-10,"H2":1.2e-10,"H3":2.35e-10,"V1":1.45e-10,"V2":2.15e-10,"V3":1.95e-10},
      {"f":64.3,"H1":8.6e-11,"H2":8.4e-11,"H3":1.45e-10,"V1":1.0e-10,"V2":1.35e-10,"V3":9.8e-11},
      {"f":65.6,"H1":1.28e-10,"H2":1.25e-10,"H3":2.2e-10,"V1":1.4e-10,"V2":2.2e-10,"V3":1.85e-10},
      {"f":66.8,"H1":8.2e-11,"H2":8.0e-11,"H3":1.38e-10,"V1":9.6e-11,"V2":1.3e-10,"V3":9.5e-11},
      {"f":68.1,"H1":1.15e-10,"H2":1.3e-10,"H3":2.45e-10,"V1":1.45e-10,"V2":2.3e-10,"V3":2.0e-10},
      {"f":69.4,"H1":9.0e-11,"H2":8.8e-11,"H3":2.35e-10,"V1":1.0e-10,"V2":1.4e-10,"V3":1.0e-10},
      {"f":70.8,"H1":1.25e-10,"H2":1.2e-10,"H3":1.45e-10,"V1":1.4e-10,"V2":2.15e-10,"V3":1.9e-10},
      {"f":72.2,"H1":1.2e-10,"H2":8.4e-11,"H3":2.2e-10,"V1":9.6e-11,"V2":1.35e-10,"V3":1.95e-10},
      {"f":73.6,"H1":8.6e-11,"H2":1.25e-10,"H3":1.38e-10,"V1":1.45e-10,"V2":2.2e-10,"V3":9.8e-11},
      {"f":75.0,"H1":1.28e-10,"H2":8.0e-11,"H3":2.45e-10,"V1":1.0e-10,"V2":1.3e-10,"V3":1.85e-10},
      {"f":76.4,"H1":8.2e-11,"H2":1.3e-10,"H3":2.35e-10,"V1":1.4e-10,"V2":2.3e-10,"V3":9.5e-11},
      {"f":77.9,"H1":1.15e-10,"H2":8.8e-11,"H3":1.45e-10,"V1":9.6e-11,"V2":1.4e-10,"V3":2.0e-10},
      {"f":79.4,"H1":9.0e-11,"H2":1.2e-10,"H3":2.2e-10,"V1":1.45e-10,"V2":2.15e-10,"V3":1.0e-10},
      {"f":81.0,"H1":1.25e-10,"H2":8.4e-11,"H3":1.38e-10,"V1":1.0e-10,"V2":1.35e-10,"V3":1.9e-10},
      {"f":82.5,"H1":1.2e-10,"H2":1.25e-10,"H3":2.45e-10,"V1":1.4e-10,"V2":2.2e-10,"V3":1.95e-10},
      {"f":84.1,"H1":8.6e-11,"H2":8.0e-11,"H3":2.35e-10,"V1":9.6e-11,"V2":1.3e-10,"V3":9.8e-11},
      {"f":85.8,"H1":1.28e-10,"H2":1.3e-10,"H3":1.45e-10,"V1":1.45e-10,"V2":2.3e-10,"V3":1.85e-10},
      {"f":87.4,"H1":8.2e-11,"H2":8.8e-11,"H3":2.2e-10,"V1":1.0e-10,"V2":1.4e-10,"V3":9.5e-11},
      {"f":89.1,"H1":1.15e-10,"H2":1.2e-10,"H3":1.38e-10,"V1":1.4e-10,"V2":2.15e-10,"V3":2.0e-10},
      {"f":90.9,"H1":9.0e-11,"H2":8.4e-11,"H3":2.45e-10,"V1":9.6e-11,"V2":1.35e-10,"V3":1.0e-10},
      {"f":92.6,"H1":1.25e-10,"H2":1.25e-10,"H3":2.35e-10,"V1":1.45e-10,"V2":2.2e-10,"V3":1.9e-10},
      {"f":94.4,"H1":1.2e-10,"H2":8.0e-11,"H3":1.45e-10,"V1":1.0e-10,"V2":1.3e-10,"V3":1.95e-10},
      {"f":96.2,"H1":8.6e-11,"H2":1.3e-10,"H3":2.2e-10,"V1":1.4e-10,"V2":2.3e-10,"V3":9.8e-11},
      {"f":98.1,"H1":1.28e-10,"H2":8.8e-11,"H3":1.38e-10,"V1":9.6e-11,"V2":1.4e-10,"V3":1.85e-10},
      {"f":100,"H1":8.2e-11,"H2":1.2e-10,"H3":2.45e-10,"V1":1.45e-10,"V2":2.15e-10,"V3":9.5e-11},
      {"f":102,"H1":1.15e-10,"H2":8.4e-11,"H3":2.35e-10,"V1":1.0e-10,"V2":1.35e-10,"V3":2.0e-10},
      {"f":104,"H1":9.0e-11,"H2":1.25e-10,"H3":1.45e-10,"V1":1.4e-10,"V2":2.2e-10,"V3":1.0e-10},
      {"f":106,"H1":1.25e-10,"H2":8.0e-11,"H3":2.2e-10,"V1":9.6e-11,"V2":1.3e-10,"V3":1.9e-10},
      {"f":108,"H1":1.2e-10,"H2":1.3e-10,"H3":1.38e-10,"V1":1.45e-10,"V2":2.3e-10,"V3":1.95e-10},
      {"f":110,"H1":8.6e-11,"H2":8.8e-11,"H3":2.45e-10,"V1":1.0e-10,"V2":1.4e-10,"V3":9.8e-11},
      {"f":112,"H1":1.28e-10,"H2":1.2e-10,"H3":2.35e-10,"V1":1.4e-10,"V2":2.15e-10,"V3":1.85e-10},
      {"f":114,"H1":8.2e-11,"H2":8.4e-11,"H3":1.45e-10,"V1":9.6e-11,"V2":1.35e-10,"V3":9.5e-11},
      {"f":117,"H1":1.15e-10,"H2":1.25e-10,"H3":2.2e-10,"V1":1.45e-10,"V2":2.2e-10,"V3":2.0e-10},
      {"f":119,"H1":9.0e-11,"H2":8.0e-11,"H3":1.38e-10,"V1":1.0e-10,"V2":1.3e-10,"V3":1.0e-10},
      {"f":121,"H1":1.25e-10,"H2":1.3e-10,"H3":2.45e-10,"V1":1.4e-10,"V2":2.3e-10,"V3":1.9e-10},
      {"f":124,"H1":1.2e-10,"H2":8.8e-11,"H3":2.35e-10,"V1":9.6e-11,"V2":1.4e-10,"V3":1.95e-10},
      {"f":126,"H1":8.6e-11,"H2":1.2e-10,"H3":1.45e-10,"V1":1.45e-10,"V2":2.15e-10,"V3":9.8e-11},
      {"f":128,"H1":1.28e-10,"H2":8.4e-11,"H3":2.2e-10,"V1":1.0e-10,"V2":1.35e-10,"V3":1.85e-10},
      {"f":131,"H1":8.2e-11,"H2":1.25e-10,"H3":1.38e-10,"V1":1.4e-10,"V2":2.2e-10,"V3":9.5e-11},
      {"f":133,"H1":1.15e-10,"H2":8.0e-11,"H3":2.45e-10,"V1":9.6e-11,"V2":1.3e-10,"V3":2.0e-10},
      {"f":136,"H1":9.0e-11,"H2":1.3e-10,"H3":2.35e-10,"V1":1.45e-10,"V2":2.3e-10,"V3":1.0e-10},
      {"f":139,"H1":1.25e-10,"H2":8.8e-11,"H3":1.45e-10,"V1":1.0e-10,"V2":1.4e-10,"V3":1.9e-10},
      {"f":141,"H1":1.2e-10,"H2":1.2e-10,"H3":2.2e-10,"V1":1.4e-10,"V2":2.15e-10,"V3":1.95e-10},
      {"f":144,"H1":8.6e-11,"H2":8.4e-11,"H3":1.38e-10,"V1":9.6e-11,"V2":1.35e-10,"V3":9.8e-11},
      {"f":147,"H1":1.28e-10,"H2":1.25e-10,"H3":2.45e-10,"V1":1.45e-10,"V2":2.2e-10,"V3":1.85e-10},
      {"f":150,"H1":8.2e-11,"H2":8.0e-11,"H3":2.35e-10,"V1":1.0e-10,"V2":1.3e-10,"V3":9.5e-11},
      {"f":153,"H1":1.15e-10,"H2":1.3e-10,"H3":1.45e-10,"V1":1.4e-10,"V2":2.3e-10,"V3":2.0e-10},
      {"f":155,"H1":9.0e-11,"H2":8.8e-11,"H3":2.2e-10,"V1":9.6e-11,"V2":1.4e-10,"V3":1.0e-10},
      {"f":158,"H1":1.25e-10,"H2":1.2e-10,"H3":1.38e-10,"V1":1.45e-10,"V2":2.15e-10,"V3":1.9e-10},
      {"f":162,"H1":1.2e-10,"H2":8.4e-11,"H3":2.45e-10,"V1":1.0e-10,"V2":1.35e-10,"V3":1.95e-10},
      {"f":165,"H1":8.6e-11,"H2":1.25e-10,"H3":2.35e-10,"V1":1.4e-10,"V2":2.2e-10,"V3":9.8e-11},
      {"f":168,"H1":1.28e-10,"H2":8.0e-11,"H3":1.45e-10,"V1":9.6e-11,"V2":1.3e-10,"V3":1.85e-10},
      {"f":171,"H1":8.2e-11,"H2":1.3e-10,"H3":2.2e-10,"V1":1.45e-10,"V2":2.3e-10,"V3":9.5e-11},
      {"f":174,"H1":1.15e-10,"H2":8.8e-11,"H3":1.38e-10,"V1":1.0e-10,"V2":1.4e-10,"V3":2.0e-10},
      {"f":178,"H1":9.0e-11,"H2":1.2e-10,"H3":8.9e-10,"V1":1.4e-10,"V2":2.15e-10,"V3":3.0e-10},
      {"f":181,"H1":1.25e-10,"H2":8.4e-11,"H3":2.35e-10,"V1":9.6e-11,"V2":1.35e-10,"V3":1.9e-10},
      {"f":185,"H1":1.2e-10,"H2":1.25e-10,"H3":1.45e-10,"V1":1.45e-10,"V2":2.2e-10,"V3":1.95e-10},
      {"f":188,"H1":8.6e-11,"H2":8.0e-11,"H3":2.2e-10,"V1":1.0e-10,"V2":1.3e-10,"V3":9.8e-11},
      {"f":192,"H1":1.28e-10,"H2":1.3e-10,"H3":1.38e-10,"V1":1.4e-10,"V2":2.3e-10,"V3":1.85e-10},
      {"f":196,"H1":8.2e-11,"H2":8.8e-11,"H3":2.45e-10,"V1":9.6e-11,"V2":1.4e-10,"V3":9.5e-11},
      {"f":199,"H1":1.15e-10,"H2":1.2e-10,"H3":2.35e-10,"V1":1.45e-10,"V2":2.15e-10,"V3":2.0e-10}
    ],
    "st2": [
      {"f":0.0167,"H1":2.29e-8,"H2":2.35e-8,"H3":2.48e-8,"V1":2.87e-9,"V2":2.82e-9,"V3":2.93e-9},
      {"f":0.0333,"H1":5.8e-8,"H2":6.4e-8,"H3":5.25e-8,"V1":4.7e-9,"V2":5.0e-9,"V3":5.24e-9},
      {"f":0.05,"H1":7.05e-8,"H2":7.5e-8,"H3":6.6e-8,"V1":6.1e-9,"V2":6.3e-9,"V3":6.8e-9},
      {"f":0.0667,"H1":5.36e-8,"H2":4.9e-8,"H3":4.9e-8,"V1":4.4e-9,"V2":4.25e-9,"V3":4.6e-9},
      {"f":0.0833,"H1":3.33e-8,"H2":2.83e-8,"H3":3.44e-8,"V1":2.07e-9,"V2":2.0e-9,"V3":2.07e-9},
      {"f":0.1,"H1":2.07e-8,"H2":1.45e-8,"H3":2.18e-8,"V1":1.01e-9,"V2":9.2e-10,"V3":9.8e-10},
      {"f":0.1167,"H1":2.1e-8,"H2":1.85e-8,"H3":2.79e-8,"V1":1.08e-9,"V2":9.6e-10,"V3":9.6e-10},
      {"f":0.1333,"H1":2.4e-8,"H2":1.97e-8,"H3":2.65e-8,"V1":9.5e-10,"V2":7.8e-10,"V3":8.0e-10},
      {"f":0.15,"H1":3.26e-8,"H2":2.15e-8,"H3":2.6e-8,"V1":7.5e-10,"V2":5.6e-10,"V3":6.4e-10},
      {"f":0.1667,"H1":3.26e-8,"H2":1.89e-8,"H3":2.29e-8,"V1":6.0e-10,"V2":4.6e-10,"V3":5.4e-10},
      {"f":0.1833,"H1":2.25e-8,"H2":1.38e-8,"H3":1.62e-8,"V1":3.22e-10,"V2":2.25e-10,"V3":2.82e-10},
      {"f":0.2,"H1":2.32e-8,"H2":1.52e-8,"H3":1.7e-8,"V1":2.18e-10,"V2":1.62e-10,"V3":2.32e-10},
      {"f":0.2167,"H1":3.26e-8,"H2":2.1e-8,"H3":2.18e-8,"V1":1.85e-10,"V2":1.79e-10,"V3":2.6e-10},
      {"f":0.2333,"H1":2.83e-8,"H2":1.79e-8,"H3":1.85e-8,"V1":1.52e-10,"V2":1.87e-10,"V3":2.25e-10},
      {"f":0.25,"H1":1.67e-8,"H2":1.06e-8,"H3":1.13e-8,"V1":1.29e-10,"V2":1.52e-10,"V3":1.73e-10},
      {"f":0.2667,"H1":9.3e-9,"H2":5.9e-9,"H3":6.3e-9,"V1":1.13e-10,"V2":1.25e-10,"V3":1.13e-10},
      {"f":0.2833,"H1":4.85e-9,"H2":3.3e-9,"H3":3.4e-9,"V1":1.06e-10,"V2":1.03e-10,"V3":1.25e-10},
      {"f":0.3,"H1":2.36e-9,"H2":2.07e-9,"H3":2.2e-9,"V1":8.7e-11,"V2":8.4e-11,"V3":1.1e-10},
      {"f":0.3167,"H1":2.07e-9,"H2":1.7e-9,"H3":1.7e-9,"V1":7.9e-11,"V2":7.7e-11,"V3":7.9e-11},
      {"f":0.3333,"H1":1.49e-9,"H2":1.31e-9,"H3":1.15e-9,"V1":7.7e-11,"V2":8.2e-11,"V3":8.4e-11},
      {"f":0.35,"H1":1.08e-9,"H2":9.8e-10,"H3":8.6e-10,"V1":8.4e-11,"V2":9.0e-11,"V3":9.6e-11},
      {"f":0.3667,"H1":8.6e-10,"H2":7.8e-10,"H3":6.4e-10,"V1":7.4e-11,"V2":6.9e-11,"V3":9.0e-11},
      {"f":0.3833,"H1":5.6e-10,"H2":6.0e-10,"H3":4.6e-10,"V1":9.0e-11,"V2":8.7e-11,"V3":9.8e-11},
      {"f":0.4,"H1":4.2e-10,"H2":4.3e-10,"H3":3.33e-10,"V1":7.9e-11,"V2":7.9e-11,"V3":9.0e-11},
      {"f":0.4167,"H1":3.12e-10,"H2":2.74e-10,"H3":2.25e-10,"V1":6.9e-11,"V2":9.0e-11,"V3":8.4e-11},
      {"f":0.4333,"H1":2.32e-10,"H2":1.91e-10,"H3":2.04e-10,"V1":8.4e-11,"V2":7.9e-11,"V3":9.3e-11},
      {"f":0.45,"H1":2.56e-10,"H2":2.32e-10,"H3":2.18e-10,"V1":7.4e-11,"V2":8.4e-11,"V3":8.2e-11},
      {"f":0.4667,"H1":2.65e-10,"H2":2.4e-10,"H3":2.18e-10,"V1":6.9e-11,"V2":7.4e-11,"V3":8.4e-11},
      {"f":0.4833,"H1":2.2e-10,"H2":2.92e-10,"H3":1.85e-10,"V1":7.2e-11,"V2":6.9e-11,"V3":7.4e-11},
      {"f":0.5,"H1":2.25e-10,"H2":3.12e-10,"H3":1.52e-10,"V1":6.5e-11,"V2":6.3e-11,"V3":6.9e-11},
      {"f":0.5167,"H1":2.18e-10,"H2":2.56e-10,"H3":1.73e-10,"V1":7.4e-11,"V2":6.5e-11,"V3":7.2e-11},
      {"f":0.5333,"H1":1.79e-10,"H2":2.18e-10,"H3":1.97e-10,"V1":6.9e-11,"V2":6.9e-11,"V3":6.5e-11},
      {"f":0.55,"H1":1.85e-10,"H2":1.97e-10,"H3":1.52e-10,"V1":7.2e-11,"V2":6.5e-11,"V3":6.9e-11},
      {"f":0.5667,"H1":1.73e-10,"H2":2.11e-10,"H3":1.42e-10,"V1":6.3e-11,"V2":6.3e-11,"V3":7.7e-11},
      {"f":0.5833,"H1":1.85e-10,"H2":1.85e-10,"H3":1.38e-10,"V1":6.9e-11,"V2":6.9e-11,"V3":6.9e-11},
      {"f":0.6,"H1":1.52e-10,"H2":1.52e-10,"H3":1.25e-10,"V1":5.9e-11,"V2":6.5e-11,"V3":6.7e-11},
      {"f":0.6167,"H1":1.42e-10,"H2":1.79e-10,"H3":1.38e-10,"V1":6.5e-11,"V2":6.3e-11,"V3":7.4e-11},
      {"f":0.6333,"H1":1.25e-10,"H2":1.42e-10,"H3":1.16e-10,"V1":6.1e-11,"V2":6.1e-11,"V3":6.5e-11},
      {"f":0.65,"H1":1.33e-10,"H2":1.52e-10,"H3":1.2e-10,"V1":5.7e-11,"V2":5.2e-11,"V3":5.7e-11},
      {"f":0.6667,"H1":1.1e-10,"H2":1.25e-10,"H3":1.06e-10,"V1":3.85e-11,"V2":4.7e-11,"V3":5.3e-11},
      {"f":0.6833,"H1":1.06e-10,"H2":1.03e-10,"H3":7.4e-11,"V1":3.85e-11,"V2":5.0e-11,"V3":5.0e-11},
      {"f":0.7,"H1":9.6e-11,"H2":8.4e-11,"H3":8.4e-11,"V1":5.0e-11,"V2":4.4e-11,"V3":4.6e-11},
      {"f":0.7167,"H1":7.9e-11,"H2":9.0e-11,"H3":1.03e-10,"V1":4.4e-11,"V2":4.1e-11,"V3":4.3e-11},
      {"f":0.7333,"H1":8.4e-11,"H2":7.9e-11,"H3":7.4e-11,"V1":3.85e-11,"V2":3.6e-11,"V3":4.6e-11},
      {"f":0.75,"H1":7.4e-11,"H2":6.9e-11,"H3":6.3e-11,"V1":3.6e-11,"V2":3.5e-11,"V3":3.85e-11},
      {"f":0.7667,"H1":6.9e-11,"H2":7.9e-11,"H3":6.5e-11,"V1":3.2e-11,"V2":3.3e-11,"V3":3.6e-11},
      {"f":0.7833,"H1":7.2e-11,"H2":6.5e-11,"H3":5.5e-11,"V1":3.7e-11,"V2":3.6e-11,"V3":4.4e-11},
      {"f":0.8,"H1":6.3e-11,"H2":7.4e-11,"H3":5.9e-11,"V1":3.4e-11,"V2":3.4e-11,"V3":3.85e-11},
      {"f":0.8167,"H1":6.5e-11,"H2":6.1e-11,"H3":6.5e-11,"V1":3.2e-11,"V2":3.2e-11,"V3":3.5e-11},
      {"f":0.8333,"H1":5.9e-11,"H2":5.5e-11,"H3":6.7e-11,"V1":3.6e-11,"V2":3.5e-11,"V3":3.4e-11},
      {"f":0.85,"H1":6.1e-11,"H2":6.5e-11,"H3":5.3e-11,"V1":3.3e-11,"V2":3.4e-11,"V3":3.85e-11},
      {"f":0.8667,"H1":5.5e-11,"H2":6.1e-11,"H3":5.9e-11,"V1":3.0e-11,"V2":4.1e-11,"V3":4.6e-11},
      {"f":0.8833,"H1":5.7e-11,"H2":6.9e-11,"H3":7.9e-11,"V1":3.6e-11,"V2":3.3e-11,"V3":3.6e-11},
      {"f":0.9,"H1":5.3e-11,"H2":8.4e-11,"H3":7.4e-11,"V1":2.9e-11,"V2":3.85e-11,"V3":4.1e-11},
      {"f":0.9167,"H1":5.5e-11,"H2":6.9e-11,"H3":6.5e-11,"V1":3.4e-11,"V2":3.6e-11,"V3":4.0e-11},
      {"f":0.9333,"H1":6.1e-11,"H2":6.3e-11,"H3":7.7e-11,"V1":3.85e-11,"V2":3.2e-11,"V3":4.7e-11},
      {"f":0.95,"H1":5.0e-11,"H2":5.3e-11,"H3":6.1e-11,"V1":3.5e-11,"V2":3.7e-11,"V3":3.85e-11},
      {"f":0.9667,"H1":4.7e-11,"H2":4.6e-11,"H3":6.9e-11,"V1":4.1e-11,"V2":3.0e-11,"V3":3.6e-11},
      {"f":0.9833,"H1":5.3e-11,"H2":5.7e-11,"H3":7.4e-11,"V1":3.6e-11,"V2":3.6e-11,"V3":4.1e-11},
      {"f":1.0,"H1":4.6e-11,"H2":3.85e-11,"H3":6.5e-11,"V1":4.1e-11,"V2":3.85e-11,"V3":3.85e-11},
      {"f":1.02,"H1":4.8e-11,"H2":4.6e-11,"H3":8.5e-11,"V1":4.5e-11,"V2":4.2e-11,"V3":5.3e-11},
      {"f":1.04,"H1":3.7e-11,"H2":3.8e-11,"H3":6.3e-11,"V1":3.3e-11,"V2":3.2e-11,"V3":3.9e-11},
      {"f":1.06,"H1":4.5e-11,"H2":5.2e-11,"H3":9.5e-11,"V1":4.2e-11,"V2":4.0e-11,"V3":4.9e-11},
      {"f":1.08,"H1":3.5e-11,"H2":3.6e-11,"H3":6.0e-11,"V1":3.0e-11,"V2":3.4e-11,"V3":4.2e-11},
      {"f":1.10,"H1":5.0e-11,"H2":4.8e-11,"H3":7.8e-11,"V1":4.5e-11,"V2":4.4e-11,"V3":5.6e-11},
      {"f":1.12,"H1":3.9e-11,"H2":4.0e-11,"H3":8.5e-11,"V1":3.3e-11,"V2":3.1e-11,"V3":5.3e-11},
      {"f":1.14,"H1":4.8e-11,"H2":5.0e-11,"H3":6.3e-11,"V1":4.2e-11,"V2":4.2e-11,"V3":3.9e-11},
      {"f":1.17,"H1":3.7e-11,"H2":4.6e-11,"H3":9.5e-11,"V1":3.0e-11,"V2":3.2e-11,"V3":4.9e-11},
      {"f":1.19,"H1":4.5e-11,"H2":3.8e-11,"H3":6.0e-11,"V1":4.5e-11,"V2":4.0e-11,"V3":4.2e-11},
      {"f":1.21,"H1":3.5e-11,"H2":5.2e-11,"H3":7.8e-11,"V1":3.3e-11,"V2":3.4e-11,"V3":5.6e-11},
      {"f":1.24,"H1":5.0e-11,"H2":3.6e-11,"H3":8.5e-11,"V1":4.2e-11,"V2":4.4e-11,"V3":5.3e-11},
      {"f":1.26,"H1":3.9e-11,"H2":4.8e-11,"H3":6.3e-11,"V1":3.0e-11,"V2":3.1e-11,"V3":3.9e-11},
      {"f":1.28,"H1":4.8e-11,"H2":4.0e-11,"H3":9.5e-11,"V1":4.5e-11,"V2":4.2e-11,"V3":4.9e-11},
      {"f":1.31,"H1":3.7e-11,"H2":5.0e-11,"H3":6.0e-11,"V1":3.3e-11,"V2":3.2e-11,"V3":4.2e-11},
      {"f":1.33,"H1":4.5e-11,"H2":4.6e-11,"H3":7.8e-11,"V1":4.2e-11,"V2":4.0e-11,"V3":5.6e-11},
      {"f":1.36,"H1":3.5e-11,"H2":3.8e-11,"H3":8.5e-11,"V1":3.0e-11,"V2":3.4e-11,"V3":5.3e-11},
      {"f":1.39,"H1":5.0e-11,"H2":5.2e-11,"H3":6.3e-11,"V1":4.5e-11,"V2":4.4e-11,"V3":3.9e-11},
      {"f":1.41,"H1":3.9e-11,"H2":3.6e-11,"H3":9.5e-11,"V1":3.3e-11,"V2":3.1e-11,"V3":4.9e-11},
      {"f":1.44,"H1":4.8e-11,"H2":4.8e-11,"H3":6.0e-11,"V1":4.2e-11,"V2":4.2e-11,"V3":4.2e-11},
      {"f":1.47,"H1":3.7e-11,"H2":4.0e-11,"H3":7.8e-11,"V1":3.0e-11,"V2":3.2e-11,"V3":5.6e-11},
      {"f":1.50,"H1":4.5e-11,"H2":5.0e-11,"H3":8.5e-11,"V1":4.5e-11,"V2":4.0e-11,"V3":5.3e-11},
      {"f":1.53,"H1":3.5e-11,"H2":4.6e-11,"H3":6.3e-11,"V1":3.3e-11,"V2":3.4e-11,"V3":3.9e-11},
      {"f":1.55,"H1":5.0e-11,"H2":3.8e-11,"H3":9.5e-11,"V1":4.2e-11,"V2":4.4e-11,"V3":4.9e-11},
      {"f":1.58,"H1":3.9e-11,"H2":5.2e-11,"H3":6.0e-11,"V1":3.0e-11,"V2":3.1e-11,"V3":4.2e-11},
      {"f":1.62,"H1":4.8e-11,"H2":3.6e-11,"H3":7.8e-11,"V1":4.5e-11,"V2":4.2e-11,"V3":5.6e-11},
      {"f":1.65,"H1":3.7e-11,"H2":4.8e-11,"H3":8.5e-11,"V1":3.3e-11,"V2":3.2e-11,"V3":5.3e-11},
      {"f":1.68,"H1":4.5e-11,"H2":4.0e-11,"H3":6.3e-11,"V1":4.2e-11,"V2":4.0e-11,"V3":3.9e-11},
      {"f":1.71,"H1":3.5e-11,"H2":5.0e-11,"H3":9.5e-11,"V1":3.0e-11,"V2":3.4e-11,"V3":4.9e-11},
      {"f":1.74,"H1":5.0e-11,"H2":4.6e-11,"H3":6.0e-11,"V1":4.5e-11,"V2":4.4e-11,"V3":4.2e-11},
      {"f":1.78,"H1":3.9e-11,"H2":3.8e-11,"H3":7.8e-11,"V1":3.3e-11,"V2":3.1e-11,"V3":5.6e-11},
      {"f":1.81,"H1":4.8e-11,"H2":5.2e-11,"H3":8.5e-11,"V1":4.2e-11,"V2":4.2e-11,"V3":5.3e-11},
      {"f":1.85,"H1":3.7e-11,"H2":3.6e-11,"H3":6.3e-11,"V1":3.0e-11,"V2":3.2e-11,"V3":3.9e-11},
      {"f":1.88,"H1":4.5e-11,"H2":4.8e-11,"H3":9.5e-11,"V1":4.5e-11,"V2":4.0e-11,"V3":4.9e-11},
      {"f":1.92,"H1":3.5e-11,"H2":4.0e-11,"H3":6.0e-11,"V1":3.3e-11,"V2":3.4e-11,"V3":4.2e-11},
      {"f":1.96,"H1":5.0e-11,"H2":5.0e-11,"H3":7.8e-11,"V1":4.2e-11,"V2":4.4e-11,"V3":5.6e-11},
      {"f":2.00,"H1":3.9e-11,"H2":4.6e-11,"H3":8.5e-11,"V1":3.0e-11,"V2":3.1e-11,"V3":5.3e-11},
      {"f":2.03,"H1":4.8e-11,"H2":3.8e-11,"H3":6.3e-11,"V1":4.5e-11,"V2":4.2e-11,"V3":3.9e-11},
      {"f":2.07,"H1":3.7e-11,"H2":5.2e-11,"H3":9.5e-11,"V1":3.3e-11,"V2":3.2e-11,"V3":4.9e-11},
      {"f":2.11,"H1":4.5e-11,"H2":3.6e-11,"H3":6.0e-11,"V1":4.2e-11,"V2":4.0e-11,"V3":4.2e-11},
      {"f":2.15,"H1":3.5e-11,"H2":4.8e-11,"H3":7.8e-11,"V1":3.0e-11,"V2":3.4e-11,"V3":5.6e-11},
      {"f":2.20,"H1":5.0e-11,"H2":4.0e-11,"H3":8.5e-11,"V1":4.5e-11,"V2":4.4e-11,"V3":5.3e-11},
      {"f":2.24,"H1":3.9e-11,"H2":5.0e-11,"H3":6.3e-11,"V1":3.3e-11,"V2":3.1e-11,"V3":3.9e-11},
      {"f":2.28,"H1":4.8e-11,"H2":4.6e-11,"H3":9.5e-11,"V1":4.2e-11,"V2":4.2e-11,"V3":4.9e-11},
      {"f":2.33,"H1":3.7e-11,"H2":3.8e-11,"H3":6.0e-11,"V1":3.0e-11,"V2":3.2e-11,"V3":4.2e-11},
      {"f":2.37,"H1":4.5e-11,"H2":5.2e-11,"H3":7.8e-11,"V1":4.5e-11,"V2":4.0e-11,"V3":5.6e-11},
      {"f":2.42,"H1":3.5e-11,"H2":3.6e-11,"H3":8.5e-11,"V1":3.3e-11,"V2":3.4e-11,"V3":5.3e-11},
      {"f":2.46,"H1":5.0e-11,"H2":4.8e-11,"H3":6.3e-11,"V1":4.2e-11,"V2":4.4e-11,"V3":3.9e-11},
      {"f":2.51,"H1":3.9e-11,"H2":4.0e-11,"H3":9.5e-11,"V1":3.0e-11,"V2":3.1e-11,"V3":4.9e-11},
      {"f":2.56,"H1":4.8e-11,"H2":5.0e-11,"H3":6.5e-11,"V1":4.5e-11,"V2":4.2e-11,"V3":4.6e-11},
      {"f":2.61,"H1":3.7e-11,"H2":4.6e-11,"H3":8.8e-11,"V1":3.3e-11,"V2":3.2e-11,"V3":5.6e-11},
      {"f":2.66,"H1":4.5e-11,"H2":3.8e-11,"H3":9.5e-11,"V1":4.2e-11,"V2":4.0e-11,"V3":6.0e-11},
      {"f":2.71,"H1":3.5e-11,"H2":5.2e-11,"H3":6.8e-11,"V1":3.0e-11,"V2":3.4e-11,"V3":4.3e-11},
      {"f":2.76,"H1":5.0e-11,"H2":3.6e-11,"H3":1.05e-10,"V1":4.5e-11,"V2":4.4e-11,"V3":6.5e-11},
      {"f":2.82,"H1":3.9e-11,"H2":4.8e-11,"H3":6.5e-11,"V1":3.3e-11,"V2":3.1e-11,"V3":4.6e-11},
      {"f":2.87,"H1":4.8e-11,"H2":4.0e-11,"H3":8.8e-11,"V1":4.2e-11,"V2":4.2e-11,"V3":5.6e-11},
      {"f":2.93,"H1":3.7e-11,"H2":5.0e-11,"H3":9.5e-11,"V1":3.0e-11,"V2":3.2e-11,"V3":6.0e-11},
      {"f":2.99,"H1":4.5e-11,"H2":4.6e-11,"H3":6.8e-11,"V1":4.5e-11,"V2":4.0e-11,"V3":4.3e-11},
      {"f":3.04,"H1":3.5e-11,"H2":3.8e-11,"H3":1.05e-10,"V1":3.3e-11,"V2":3.4e-11,"V3":6.5e-11},
      {"f":3.10,"H1":5.0e-11,"H2":5.2e-11,"H3":6.5e-11,"V1":4.2e-11,"V2":4.4e-11,"V3":4.6e-11},
      {"f":3.16,"H1":3.9e-11,"H2":3.6e-11,"H3":8.8e-11,"V1":3.0e-11,"V2":3.1e-11,"V3":5.6e-11},
      {"f":3.22,"H1":4.8e-11,"H2":4.8e-11,"H3":9.5e-11,"V1":4.5e-11,"V2":4.2e-11,"V3":6.0e-11},
      {"f":3.29,"H1":3.7e-11,"H2":4.0e-11,"H3":6.8e-11,"V1":3.3e-11,"V2":3.2e-11,"V3":4.3e-11},
      {"f":3.35,"H1":4.5e-11,"H2":5.0e-11,"H3":1.05e-10,"V1":4.2e-11,"V2":4.0e-11,"V3":6.5e-11},
      {"f":3.41,"H1":3.5e-11,"H2":4.6e-11,"H3":6.5e-11,"V1":3.0e-11,"V2":3.4e-11,"V3":4.6e-11},
      {"f":3.48,"H1":5.0e-11,"H2":3.8e-11,"H3":8.8e-11,"V1":4.5e-11,"V2":4.4e-11,"V3":5.6e-11},
      {"f":3.55,"H1":3.9e-11,"H2":5.2e-11,"H3":9.5e-11,"V1":3.3e-11,"V2":3.1e-11,"V3":6.0e-11},
      {"f":3.62,"H1":4.8e-11,"H2":3.6e-11,"H3":6.8e-11,"V1":4.2e-11,"V2":4.2e-11,"V3":4.3e-11},
      {"f":3.69,"H1":3.7e-11,"H2":4.8e-11,"H3":1.05e-10,"V1":3.0e-11,"V2":3.2e-11,"V3":6.5e-11},
      {"f":3.76,"H1":4.5e-11,"H2":4.0e-11,"H3":6.5e-11,"V1":4.5e-11,"V2":4.0e-11,"V3":4.6e-11},
      {"f":3.83,"H1":3.5e-11,"H2":5.0e-11,"H3":8.8e-11,"V1":3.3e-11,"V2":3.4e-11,"V3":5.6e-11},
      {"f":3.91,"H1":5.0e-11,"H2":4.6e-11,"H3":9.5e-11,"V1":4.2e-11,"V2":4.4e-11,"V3":6.0e-11},
      {"f":3.98,"H1":3.9e-11,"H2":3.8e-11,"H3":6.8e-11,"V1":3.0e-11,"V2":3.1e-11,"V3":4.3e-11},
      {"f":4.06,"H1":4.8e-11,"H2":5.2e-11,"H3":1.05e-10,"V1":4.5e-11,"V2":4.2e-11,"V3":6.5e-11},
      {"f":4.14,"H1":3.7e-11,"H2":3.6e-11,"H3":6.5e-11,"V1":3.3e-11,"V2":3.2e-11,"V3":4.6e-11},
      {"f":4.22,"H1":4.5e-11,"H2":4.8e-11,"H3":8.8e-11,"V1":4.2e-11,"V2":4.0e-11,"V3":5.6e-11},
      {"f":4.30,"H1":3.5e-11,"H2":4.0e-11,"H3":9.5e-11,"V1":3.0e-11,"V2":3.4e-11,"V3":6.0e-11},
      {"f":4.38,"H1":5.0e-11,"H2":5.0e-11,"H3":6.8e-11,"V1":4.5e-11,"V2":4.4e-11,"V3":4.3e-11},
      {"f":4.47,"H1":3.9e-11,"H2":4.6e-11,"H3":1.05e-10,"V1":3.3e-11,"V2":3.1e-11,"V3":6.5e-11},
      {"f":4.55,"H1":4.8e-11,"H2":3.8e-11,"H3":6.5e-11,"V1":4.2e-11,"V2":4.2e-11,"V3":4.6e-11},
      {"f":4.64,"H1":3.7e-11,"H2":5.2e-11,"H3":8.8e-11,"V1":3.0e-11,"V2":3.2e-11,"V3":5.6e-11},
      {"f":4.73,"H1":4.5e-11,"H2":3.6e-11,"H3":9.5e-11,"V1":4.5e-11,"V2":4.0e-11,"V3":6.0e-11},
      {"f":4.82,"H1":3.5e-11,"H2":4.8e-11,"H3":6.8e-11,"V1":3.3e-11,"V2":3.4e-11,"V3":4.3e-11},
      {"f":4.92,"H1":5.0e-11,"H2":4.0e-11,"H3":1.05e-10,"V1":4.2e-11,"V2":4.4e-11,"V3":6.5e-11},
      {"f":5.01,"H1":3.9e-11,"H2":5.0e-11,"H3":6.5e-11,"V1":3.0e-11,"V2":3.1e-11,"V3":4.6e-11},
      {"f":5.11,"H1":4.8e-11,"H2":4.6e-11,"H3":9.5e-11,"V1":4.5e-11,"V2":4.2e-11,"V3":5.6e-11},
      {"f":5.21,"H1":3.7e-11,"H2":3.8e-11,"H3":1.1e-10,"V1":3.3e-11,"V2":3.2e-11,"V3":6.0e-11},
      {"f":5.31,"H1":4.5e-11,"H2":5.2e-11,"H3":7.2e-11,"V1":4.2e-11,"V2":4.0e-11,"V3":4.3e-11},
      {"f":5.41,"H1":3.5e-11,"H2":3.6e-11,"H3":1.17e-10,"V1":3.0e-11,"V2":3.4e-11,"V3":6.5e-11},
      {"f":5.52,"H1":5.0e-11,"H2":4.8e-11,"H3":7.0e-11,"V1":4.5e-11,"V2":4.4e-11,"V3":4.6e-11},
      {"f":5.62,"H1":3.9e-11,"H2":4.0e-11,"H3":1.6e-10,"V1":3.3e-11,"V2":3.1e-11,"V3":5.6e-11},
      {"f":5.73,"H1":4.8e-11,"H2":5.0e-11,"H3":1.1e-10,"V1":4.2e-11,"V2":4.2e-11,"V3":6.0e-11},
      {"f":5.84,"H1":3.7e-11,"H2":4.6e-11,"H3":7.2e-11,"V1":3.0e-11,"V2":3.2e-11,"V3":4.3e-11},
      {"f":5.96,"H1":4.5e-11,"H2":3.8e-11,"H3":1.17e-10,"V1":4.5e-11,"V2":4.0e-11,"V3":6.5e-11},
      {"f":6.07,"H1":3.5e-11,"H2":5.2e-11,"H3":7.0e-11,"V1":3.3e-11,"V2":3.4e-11,"V3":4.6e-11},
      {"f":6.19,"H1":5.0e-11,"H2":3.6e-11,"H3":9.5e-11,"V1":4.2e-11,"V2":4.4e-11,"V3":5.6e-11},
      {"f":6.31,"H1":3.9e-11,"H2":4.8e-11,"H3":1.1e-10,"V1":3.0e-11,"V2":3.1e-11,"V3":6.0e-11},
      {"f":6.43,"H1":4.8e-11,"H2":4.0e-11,"H3":7.2e-11,"V1":4.5e-11,"V2":4.2e-11,"V3":4.8e-11},
      {"f":6.56,"H1":3.7e-11,"H2":5.0e-11,"H3":1.17e-10,"V1":3.3e-11,"V2":3.2e-11,"V3":6.6e-11},
      {"f":6.68,"H1":4.5e-11,"H2":5.5e-11,"H3":7.0e-11,"V1":4.2e-11,"V2":4.0e-11,"V3":5.0e-11},
      {"f":6.81,"H1":3.5e-11,"H2":6.5e-11,"H3":9.5e-11,"V1":3.0e-11,"V2":3.4e-11,"V3":7.4e-11},
      {"f":6.94,"H1":5.0e-11,"H2":5.2e-11,"H3":1.1e-10,"V1":4.5e-11,"V2":4.4e-11,"V3":7.0e-11},
      {"f":7.08,"H1":3.9e-11,"H2":7.2e-11,"H3":7.2e-11,"V1":3.3e-11,"V2":3.1e-11,"V3":4.8e-11},
      {"f":7.22,"H1":4.8e-11,"H2":5.8e-11,"H3":1.17e-10,"V1":4.2e-11,"V2":4.2e-11,"V3":6.6e-11},
      {"f":7.36,"H1":3.7e-11,"H2":8.0e-11,"H3":7.0e-11,"V1":3.0e-11,"V2":3.2e-11,"V3":5.0e-11},
      {"f":7.50,"H1":4.5e-11,"H2":6.4e-11,"H3":9.5e-11,"V1":4.5e-11,"V2":4.0e-11,"V3":7.4e-11},
      {"f":7.64,"H1":3.5e-11,"H2":1.1e-10,"H3":1.9e-10,"V1":3.3e-11,"V2":3.4e-11,"V3":7.0e-11},
      {"f":7.79,"H1":5.0e-11,"H2":7.0e-11,"H3":7.2e-11,"V1":4.2e-11,"V2":4.4e-11,"V3":4.8e-11},
      {"f":7.94,"H1":3.9e-11,"H2":8.4e-11,"H3":1.17e-10,"V1":3.0e-11,"V2":3.1e-11,"V3":6.6e-11},
      {"f":8.10,"H1":4.8e-11,"H2":5.6e-11,"H3":7.0e-11,"V1":4.5e-11,"V2":4.2e-11,"V3":5.0e-11},
      {"f":8.25,"H1":3.7e-11,"H2":6.6e-11,"H3":9.5e-11,"V1":3.3e-11,"V2":3.2e-11,"V3":7.4e-11},
      {"f":8.41,"H1":4.5e-11,"H2":4.8e-11,"H3":1.1e-10,"V1":4.2e-11,"V2":4.0e-11,"V3":7.0e-11},
      {"f":8.58,"H1":3.5e-11,"H2":5.4e-11,"H3":7.2e-11,"V1":3.0e-11,"V2":3.4e-11,"V3":4.8e-11},
      {"f":8.74,"H1":5.0e-11,"H2":4.6e-11,"H3":1.17e-10,"V1":4.5e-11,"V2":4.4e-11,"V3":6.6e-11},
      {"f":8.91,"H1":3.9e-11,"H2":3.8e-11,"H3":7.0e-11,"V1":3.3e-11,"V2":3.1e-11,"V3":5.0e-11},
      {"f":9.09,"H1":4.8e-11,"H2":5.2e-11,"H3":9.5e-11,"V1":4.2e-11,"V2":4.2e-11,"V3":7.4e-11},
      {"f":9.26,"H1":3.7e-11,"H2":3.6e-11,"H3":1.1e-10,"V1":3.0e-11,"V2":3.2e-11,"V3":7.0e-11},
      {"f":9.44,"H1":4.5e-11,"H2":4.8e-11,"H3":7.2e-11,"V1":4.5e-11,"V2":4.0e-11,"V3":4.8e-11},
      {"f":9.62,"H1":3.5e-11,"H2":4.0e-11,"H3":1.17e-10,"V1":3.3e-11,"V2":3.4e-11,"V3":6.6e-11},
      {"f":9.81,"H1":5.0e-11,"H2":5.0e-11,"H3":7.0e-11,"V1":4.2e-11,"V2":4.4e-11,"V3":5.0e-11},
      {"f":10.0,"H1":3.9e-11,"H2":4.6e-11,"H3":9.5e-11,"V1":3.0e-11,"V2":3.1e-11,"V3":7.4e-11},
      {"f":10.2,"H1":4.2e-11,"H2":5.6e-11,"H3":1.15e-10,"V1":4.3e-11,"V2":4.1e-11,"V3":7.4e-11},
      {"f":10.4,"H1":3.0e-11,"H2":4.6e-11,"H3":7.2e-11,"V1":2.9e-11,"V2":2.8e-11,"V3":5.0e-11},
      {"f":10.6,"H1":4.0e-11,"H2":6.2e-11,"H3":1.2e-10,"V1":4.1e-11,"V2":4.0e-11,"V3":7.8e-11},
      {"f":10.8,"H1":2.8e-11,"H2":4.8e-11,"H3":7.0e-11,"V1":3.0e-11,"V2":2.7e-11,"V3":5.2e-11},
      {"f":11.0,"H1":4.3e-11,"H2":5.9e-11,"H3":1.1e-10,"V1":4.3e-11,"V2":3.9e-11,"V3":8.0e-11},
      {"f":11.2,"H1":3.1e-11,"H2":5.6e-11,"H3":1.15e-10,"V1":2.9e-11,"V2":2.9e-11,"V3":7.4e-11},
      {"f":11.4,"H1":4.2e-11,"H2":4.6e-11,"H3":7.2e-11,"V1":4.1e-11,"V2":4.1e-11,"V3":5.0e-11},
      {"f":11.7,"H1":3.0e-11,"H2":6.2e-11,"H3":1.2e-10,"V1":3.0e-11,"V2":2.8e-11,"V3":7.8e-11},
      {"f":11.9,"H1":4.0e-11,"H2":4.8e-11,"H3":7.0e-11,"V1":4.3e-11,"V2":4.0e-11,"V3":5.2e-11},
      {"f":12.1,"H1":2.8e-11,"H2":5.9e-11,"H3":1.1e-10,"V1":2.9e-11,"V2":2.7e-11,"V3":8.0e-11},
      {"f":12.4,"H1":4.3e-11,"H2":5.6e-11,"H3":1.15e-10,"V1":4.1e-11,"V2":3.9e-11,"V3":7.4e-11},
      {"f":12.6,"H1":3.1e-11,"H2":4.6e-11,"H3":7.2e-11,"V1":3.0e-11,"V2":2.9e-11,"V3":5.0e-11},
      {"f":12.8,"H1":4.2e-11,"H2":6.2e-11,"H3":1.2e-10,"V1":4.3e-11,"V2":4.1e-11,"V3":7.8e-11},
      {"f":13.1,"H1":3.0e-11,"H2":4.8e-11,"H3":7.0e-11,"V1":2.9e-11,"V2":2.8e-11,"V3":5.2e-11},
      {"f":13.3,"H1":4.0e-11,"H2":5.9e-11,"H3":1.9e-10,"V1":4.1e-11,"V2":4.0e-11,"V3":1.48e-10},
      {"f":13.6,"H1":2.8e-11,"H2":5.6e-11,"H3":1.15e-10,"V1":3.0e-11,"V2":2.7e-11,"V3":7.4e-11},
      {"f":13.9,"H1":4.3e-11,"H2":4.6e-11,"H3":7.2e-11,"V1":4.3e-11,"V2":3.9e-11,"V3":5.0e-11},
      {"f":14.1,"H1":3.1e-11,"H2":6.2e-11,"H3":1.2e-10,"V1":2.9e-11,"V2":2.9e-11,"V3":7.8e-11},
      {"f":14.4,"H1":4.2e-11,"H2":4.8e-11,"H3":7.0e-11,"V1":4.1e-11,"V2":4.1e-11,"V3":5.2e-11},
      {"f":14.7,"H1":3.0e-11,"H2":5.9e-11,"H3":1.1e-10,"V1":3.0e-11,"V2":2.8e-11,"V3":8.0e-11},
      {"f":15.0,"H1":4.0e-11,"H2":5.6e-11,"H3":1.15e-10,"V1":4.3e-11,"V2":4.0e-11,"V3":7.4e-11},
      {"f":15.3,"H1":2.8e-11,"H2":4.6e-11,"H3":1.37e-10,"V1":2.9e-11,"V2":2.7e-11,"V3":5.0e-11},
      {"f":15.5,"H1":4.3e-11,"H2":6.2e-11,"H3":1.2e-10,"V1":4.1e-11,"V2":3.9e-11,"V3":7.8e-11},
      {"f":15.8,"H1":3.1e-11,"H2":4.8e-11,"H3":7.0e-11,"V1":3.0e-11,"V2":2.9e-11,"V3":5.2e-11},
      {"f":16.2,"H1":4.2e-11,"H2":5.9e-11,"H3":1.1e-10,"V1":4.3e-11,"V2":4.1e-11,"V3":8.0e-11},
      {"f":16.5,"H1":3.0e-11,"H2":5.6e-11,"H3":1.15e-10,"V1":2.9e-11,"V2":2.8e-11,"V3":7.4e-11},
      {"f":16.8,"H1":4.0e-11,"H2":4.6e-11,"H3":7.2e-11,"V1":4.1e-11,"V2":2.8e-10,"V3":5.0e-11},
      {"f":17.1,"H1":2.8e-11,"H2":6.2e-11,"H3":1.2e-10,"V1":3.0e-11,"V2":2.7e-11,"V3":7.8e-11},
      {"f":17.4,"H1":4.3e-11,"H2":4.8e-11,"H3":7.0e-11,"V1":4.3e-11,"V2":3.9e-11,"V3":5.2e-11},
      {"f":17.8,"H1":3.1e-11,"H2":5.9e-11,"H3":1.1e-10,"V1":2.9e-11,"V2":2.9e-11,"V3":1.9e-10},
      {"f":18.1,"H1":4.2e-11,"H2":5.6e-11,"H3":1.15e-10,"V1":4.1e-11,"V2":4.1e-11,"V3":7.4e-11},
      {"f":18.5,"H1":3.0e-11,"H2":4.6e-11,"H3":7.2e-11,"V1":3.0e-11,"V2":2.8e-11,"V3":5.0e-11},
      {"f":18.8,"H1":4.0e-11,"H2":6.2e-11,"H3":1.2e-10,"V1":4.3e-11,"V2":4.0e-11,"V3":7.8e-11},
      {"f":19.2,"H1":2.8e-11,"H2":4.8e-11,"H3":7.0e-11,"V1":2.9e-11,"V2":2.7e-11,"V3":5.2e-11},
      {"f":19.6,"H1":4.3e-11,"H2":5.9e-11,"H3":1.1e-10,"V1":4.1e-11,"V2":3.9e-11,"V3":8.0e-11},
      {"f":20.0,"H1":3.1e-11,"H2":5.6e-11,"H3":1.15e-10,"V1":3.0e-11,"V2":2.9e-11,"V3":7.4e-11},
      {"f":20.3,"H1":4.2e-11,"H2":2.7e-11,"H3":7.2e-11,"V1":4.3e-11,"V2":4.1e-11,"V3":4.2e-11},
      {"f":20.7,"H1":3.0e-11,"H2":3.7e-11,"H3":1.2e-10,"V1":2.9e-11,"V2":2.8e-11,"V3":8.6e-11},
      {"f":21.1,"H1":4.0e-11,"H2":2.6e-11,"H3":7.0e-11,"V1":4.1e-11,"V2":4.0e-11,"V3":1.6e-10},
      {"f":21.5,"H1":2.8e-11,"H2":4.0e-11,"H3":1.1e-10,"V1":3.0e-11,"V2":2.7e-11,"V3":8.0e-11},
      {"f":22.0,"H1":4.3e-11,"H2":2.8e-11,"H3":1.15e-10,"V1":4.3e-11,"V2":3.9e-11,"V3":4.4e-11},
      {"f":22.4,"H1":3.1e-11,"H2":3.8e-11,"H3":7.2e-11,"V1":2.9e-11,"V2":2.9e-11,"V3":8.4e-11},
      {"f":22.8,"H1":4.2e-11,"H2":3.9e-11,"H3":1.2e-10,"V1":4.1e-11,"V2":4.1e-11,"V3":8.2e-11},
      {"f":23.3,"H1":3.0e-11,"H2":2.7e-11,"H3":7.0e-11,"V1":3.0e-11,"V2":2.8e-11,"V3":4.2e-11},
      {"f":23.7,"H1":4.0e-11,"H2":3.7e-11,"H3":1.1e-10,"V1":4.3e-11,"V2":4.0e-11,"V3":8.6e-11},
      {"f":24.2,"H1":2.8e-11,"H2":2.6e-11,"H3":1.15e-10,"V1":2.9e-11,"V2":2.7e-11,"V3":4.0e-11},
      {"f":24.6,"H1":4.3e-11,"H2":4.0e-11,"H3":7.2e-11,"V1":4.1e-11,"V2":3.9e-11,"V3":8.0e-11},
      {"f":25.1,"H1":3.1e-11,"H2":2.8e-11,"H3":1.2e-10,"V1":3.0e-11,"V2":2.9e-11,"V3":4.4e-11},
      {"f":25.6,"H1":4.2e-11,"H2":3.8e-11,"H3":7.0e-11,"V1":4.3e-11,"V2":4.1e-11,"V3":8.4e-11},
      {"f":26.1,"H1":3.0e-11,"H2":3.9e-11,"H3":1.1e-10,"V1":2.9e-11,"V2":2.8e-11,"V3":8.2e-11},
      {"f":26.6,"H1":4.0e-11,"H2":2.7e-11,"H3":1.15e-10,"V1":4.1e-11,"V2":4.0e-11,"V3":4.2e-11},
      {"f":27.1,"H1":2.8e-11,"H2":3.7e-11,"H3":7.2e-11,"V1":3.0e-11,"V2":2.7e-11,"V3":8.6e-11},
      {"f":27.6,"H1":4.3e-11,"H2":2.6e-11,"H3":1.2e-10,"V1":4.3e-11,"V2":3.9e-11,"V3":4.0e-11},
      {"f":28.2,"H1":3.1e-11,"H2":4.0e-11,"H3":7.0e-11,"V1":2.9e-11,"V2":2.9e-11,"V3":8.0e-11},
      {"f":28.7,"H1":4.2e-11,"H2":2.8e-11,"H3":1.1e-10,"V1":4.1e-11,"V2":4.1e-11,"V3":2.3e-10},
      {"f":29.3,"H1":3.0e-11,"H2":3.8e-11,"H3":1.15e-10,"V1":3.0e-11,"V2":2.8e-11,"V3":8.4e-11},
      {"f":29.9,"H1":4.0e-11,"H2":3.9e-11,"H3":7.2e-11,"V1":4.3e-11,"V2":4.0e-11,"V3":3.3e-10},
      {"f":30.4,"H1":2.8e-11,"H2":2.7e-11,"H3":1.2e-10,"V1":2.9e-11,"V2":2.7e-11,"V3":4.2e-11},
      {"f":31.0,"H1":4.3e-11,"H2":3.7e-11,"H3":7.0e-11,"V1":4.1e-11,"V2":3.9e-11,"V3":8.6e-11},
      {"f":31.6,"H1":3.1e-11,"H2":2.6e-11,"H3":1.1e-10,"V1":3.0e-11,"V2":2.9e-11,"V3":4.0e-11},
      {"f":32.2,"H1":4.2e-11,"H2":4.0e-11,"H3":1.15e-10,"V1":4.3e-11,"V2":4.1e-11,"V3":8.0e-11},
      {"f":32.9,"H1":3.0e-11,"H2":2.8e-11,"H3":7.2e-11,"V1":2.9e-11,"V2":2.8e-11,"V3":4.4e-11},
      {"f":33.5,"H1":4.0e-11,"H2":3.8e-11,"H3":1.2e-10,"V1":4.1e-11,"V2":4.0e-11,"V3":8.4e-11},
      {"f":34.1,"H1":2.8e-11,"H2":3.9e-11,"H3":7.0e-11,"V1":3.0e-11,"V2":2.7e-11,"V3":8.2e-11},
      {"f":34.8,"H1":4.3e-11,"H2":2.7e-11,"H3":1.1e-10,"V1":4.3e-11,"V2":3.9e-11,"V3":4.2e-11},
      {"f":35.5,"H1":3.1e-11,"H2":3.7e-11,"H3":1.15e-10,"V1":2.9e-11,"V2":2.9e-11,"V3":8.6e-11},
      {"f":36.2,"H1":4.2e-11,"H2":2.6e-11,"H3":7.2e-11,"V1":4.1e-11,"V2":4.1e-11,"V3":4.0e-11},
      {"f":36.9,"H1":3.0e-11,"H2":4.0e-11,"H3":1.2e-10,"V1":3.0e-11,"V2":2.8e-11,"V3":8.0e-11},
      {"f":37.6,"H1":4.0e-11,"H2":2.8e-11,"H3":7.0e-11,"V1":4.3e-11,"V2":4.0e-11,"V3":4.4e-11},
      {"f":38.3,"H1":2.8e-11,"H2":3.8e-11,"H3":1.1e-10,"V1":2.9e-11,"V2":2.7e-11,"V3":8.4e-11},
      {"f":39.1,"H1":4.3e-11,"H2":3.9e-11,"H3":1.15e-10,"V1":4.1e-11,"V2":3.9e-11,"V3":8.2e-11},
      {"f":39.8,"H1":3.1e-11,"H2":2.7e-11,"H3":7.2e-11,"V1":3.0e-11,"V2":2.9e-11,"V3":4.2e-11},
      {"f":40.6,"H1":4.2e-11,"H2":3.7e-11,"H3":1.2e-10,"V1":4.3e-11,"V2":4.1e-11,"V3":8.6e-11},
      {"f":41.4,"H1":3.0e-11,"H2":2.6e-11,"H3":7.0e-11,"V1":2.9e-11,"V2":2.8e-11,"V3":4.0e-11},
      {"f":42.2,"H1":4.0e-11,"H2":4.0e-11,"H3":1.1e-10,"V1":4.1e-11,"V2":4.0e-11,"V3":8.0e-11},
      {"f":43.0,"H1":2.8e-11,"H2":2.8e-11,"H3":1.15e-10,"V1":3.0e-11,"V2":2.7e-11,"V3":4.4e-11},
      {"f":43.8,"H1":4.3e-11,"H2":3.8e-11,"H3":7.2e-11,"V1":4.3e-11,"V2":3.9e-11,"V3":8.4e-11},
      {"f":44.7,"H1":3.1e-11,"H2":3.9e-11,"H3":1.2e-10,"V1":2.9e-11,"V2":2.9e-11,"V3":8.2e-11},
      {"f":45.5,"H1":4.2e-11,"H2":2.7e-11,"H3":7.0e-11,"V1":4.1e-11,"V2":4.1e-11,"V3":4.2e-11},
      {"f":46.4,"H1":3.0e-11,"H2":3.7e-11,"H3":1.1e-10,"V1":3.0e-11,"V2":2.8e-11,"V3":8.6e-11},
      {"f":47.3,"H1":4.0e-11,"H2":2.6e-11,"H3":1.15e-10,"V1":4.3e-11,"V2":4.0e-11,"V3":4.0e-11},
      {"f":48.2,"H1":2.8e-11,"H2":4.0e-11,"H3":7.2e-11,"V1":2.9e-11,"V2":2.7e-11,"V3":8.0e-11},
      {"f":49.2,"H1":4.3e-11,"H2":2.8e-11,"H3":1.2e-10,"V1":4.1e-11,"V2":3.9e-11,"V3":1.2e-10},
      {"f":50.1,"H1":3.1e-11,"H2":3.8e-11,"H3":7.0e-11,"V1":3.0e-11,"V2":2.9e-11,"V3":8.4e-11},
      {"f":51.1,"H1":4.2e-11,"H2":3.9e-11,"H3":1.1e-10,"V1":4.3e-11,"V2":4.1e-11,"V3":8.2e-11},
      {"f":52.1,"H1":3.0e-11,"H2":2.7e-11,"H3":1.15e-10,"V1":2.9e-11,"V2":2.8e-11,"V3":4.2e-11},
      {"f":53.1,"H1":4.0e-11,"H2":3.7e-11,"H3":7.2e-11,"V1":4.1e-11,"V2":4.0e-11,"V3":8.6e-11},
      {"f":54.1,"H1":2.8e-11,"H2":2.6e-11,"H3":1.2e-10,"V1":3.0e-11,"V2":2.7e-11,"V3":4.0e-11},
      {"f":55.2,"H1":4.3e-11,"H2":4.0e-11,"H3":7.0e-11,"V1":4.3e-11,"V2":3.9e-11,"V3":8.0e-11},
      {"f":56.2,"H1":3.1e-11,"H2":2.8e-11,"H3":1.1e-10,"V1":2.9e-11,"V2":2.9e-11,"V3":4.4e-11},
      {"f":57.3,"H1":4.2e-11,"H2":3.8e-11,"H3":1.15e-10,"V1":4.1e-11,"V2":4.1e-11,"V3":8.4e-11},
      {"f":58.4,"H1":3.0e-11,"H2":3.9e-11,"H3":7.2e-11,"V1":3.0e-11,"V2":2.8e-11,"V3":8.2e-11},
      {"f":59.6,"H1":4.0e-11,"H2":2.7e-11,"H3":1.2e-10,"V1":2.4e-10,"V2":4.0e-11,"V3":4.2e-11},
      {"f":60.7,"H1":2.8e-11,"H2":3.7e-11,"H3":7.0e-11,"V1":2.9e-11,"V2":2.7e-11,"V3":8.6e-11},
      {"f":61.9,"H1":4.3e-11,"H2":2.6e-11,"H3":1.1e-10,"V1":4.1e-11,"V2":3.9e-11,"V3":4.0e-11},
      {"f":63.1,"H1":3.1e-11,"H2":4.0e-11,"H3":1.15e-10,"V1":3.0e-11,"V2":2.9e-11,"V3":8.0e-11},
      {"f":64.3,"H1":4.2e-11,"H2":2.8e-11,"H3":7.2e-11,"V1":4.3e-11,"V2":4.1e-11,"V3":4.4e-11},
      {"f":65.6,"H1":3.0e-11,"H2":3.8e-11,"H3":1.2e-10,"V1":2.9e-11,"V2":2.8e-11,"V3":8.4e-11},
      {"f":66.8,"H1":4.0e-11,"H2":3.9e-11,"H3":7.0e-11,"V1":4.1e-11,"V2":4.0e-11,"V3":8.2e-11},
      {"f":68.1,"H1":2.8e-11,"H2":2.7e-11,"H3":1.1e-10,"V1":3.0e-11,"V2":2.7e-11,"V3":4.2e-11},
      {"f":69.4,"H1":4.3e-11,"H2":3.7e-11,"H3":1.15e-10,"V1":4.3e-11,"V2":3.9e-11,"V3":8.6e-11},
      {"f":70.8,"H1":3.1e-11,"H2":2.6e-11,"H3":7.2e-11,"V1":2.9e-11,"V2":2.9e-11,"V3":4.0e-11},
      {"f":72.2,"H1":4.2e-11,"H2":4.0e-11,"H3":1.2e-10,"V1":4.1e-11,"V2":4.1e-11,"V3":8.0e-11},
      {"f":73.6,"H1":3.0e-11,"H2":2.8e-11,"H3":7.0e-11,"V1":3.0e-11,"V2":2.8e-11,"V3":4.4e-11},
      {"f":75.0,"H1":4.0e-11,"H2":3.8e-11,"H3":1.1e-10,"V1":4.3e-11,"V2":4.0e-11,"V3":8.4e-11},
      {"f":76.4,"H1":2.8e-11,"H2":3.9e-11,"H3":1.15e-10,"V1":2.9e-11,"V2":2.7e-11,"V3":8.2e-11},
      {"f":77.9,"H1":4.3e-11,"H2":2.7e-11,"H3":7.2e-11,"V1":4.1e-11,"V2":3.9e-11,"V3":4.2e-11},
      {"f":79.4,"H1":3.1e-11,"H2":3.7e-11,"H3":1.2e-10,"V1":3.0e-11,"V2":2.9e-11,"V3":8.6e-11},
      {"f":81.0,"H1":4.2e-11,"H2":2.6e-11,"H3":7.0e-11,"V1":4.3e-11,"V2":4.1e-11,"V3":4.0e-11},
      {"f":82.5,"H1":3.0e-11,"H2":4.0e-11,"H3":1.1e-10,"V1":2.9e-11,"V2":2.8e-11,"V3":8.0e-11},
      {"f":84.1,"H1":4.0e-11,"H2":2.8e-11,"H3":1.15e-10,"V1":4.1e-11,"V2":4.0e-11,"V3":4.4e-11},
      {"f":85.8,"H1":2.8e-11,"H2":3.8e-11,"H3":7.2e-11,"V1":3.0e-11,"V2":2.7e-11,"V3":8.4e-11},
      {"f":87.4,"H1":4.3e-11,"H2":3.9e-11,"H3":1.2e-10,"V1":4.3e-11,"V2":3.9e-11,"V3":8.2e-11},
      {"f":89.1,"H1":3.1e-11,"H2":2.7e-11,"H3":7.0e-11,"V1":2.9e-11,"V2":2.9e-11,"V3":4.2e-11},
      {"f":90.9,"H1":4.2e-11,"H2":3.7e-11,"H3":1.1e-10,"V1":4.1e-11,"V2":4.1e-11,"V3":8.6e-11},
      {"f":92.6,"H1":3.0e-11,"H2":2.6e-11,"H3":1.15e-10,"V1":3.0e-11,"V2":2.8e-11,"V3":4.0e-11},
      {"f":94.4,"H1":4.0e-11,"H2":4.0e-11,"H3":7.2e-11,"V1":4.3e-11,"V2":4.0e-11,"V3":8.0e-11},
      {"f":96.2,"H1":2.8e-11,"H2":2.8e-11,"H3":1.2e-10,"V1":2.9e-11,"V2":2.7e-11,"V3":4.4e-11},
      {"f":98.1,"H1":4.3e-11,"H2":3.8e-11,"H3":7.0e-11,"V1":4.1e-11,"V2":3.9e-11,"V3":1.2e-10},
      {"f":100,"H1":3.1e-11,"H2":3.9e-11,"H3":1.1e-10,"V1":3.0e-11,"V2":2.9e-11,"V3":8.2e-11},
      {"f":102,"H1":4.2e-11,"H2":2.7e-11,"H3":1.15e-10,"V1":4.3e-11,"V2":3.7e-11,"V3":4.2e-11},
      {"f":104,"H1":3.0e-11,"H2":3.7e-11,"H3":7.2e-11,"V1":2.9e-11,"V2":2.4e-11,"V3":8.6e-11},
      {"f":106,"H1":4.0e-11,"H2":2.6e-11,"H3":1.2e-10,"V1":4.1e-11,"V2":3.8e-11,"V3":4.0e-11},
      {"f":108,"H1":2.8e-11,"H2":4.0e-11,"H3":7.0e-11,"V1":3.0e-11,"V2":2.3e-11,"V3":8.0e-11},
      {"f":110,"H1":4.3e-11,"H2":2.8e-11,"H3":1.1e-10,"V1":4.3e-11,"V2":3.6e-11,"V3":4.4e-11},
      {"f":112,"H1":3.1e-11,"H2":3.8e-11,"H3":1.15e-10,"V1":2.9e-11,"V2":2.5e-11,"V3":8.4e-11},
      {"f":114,"H1":4.2e-11,"H2":3.9e-11,"H3":7.2e-11,"V1":4.1e-11,"V2":3.7e-11,"V3":8.2e-11},
      {"f":117,"H1":3.0e-11,"H2":2.7e-11,"H3":1.2e-10,"V1":3.0e-11,"V2":2.4e-11,"V3":4.2e-11},
      {"f":119,"H1":4.0e-11,"H2":3.7e-11,"H3":7.0e-11,"V1":4.3e-11,"V2":3.8e-11,"V3":8.6e-11},
      {"f":121,"H1":2.8e-11,"H2":2.6e-11,"H3":1.1e-10,"V1":2.9e-11,"V2":2.3e-11,"V3":4.0e-11},
      {"f":124,"H1":4.3e-11,"H2":4.0e-11,"H3":1.15e-10,"V1":4.1e-11,"V2":3.6e-11,"V3":8.0e-11},
      {"f":126,"H1":3.1e-11,"H2":2.8e-11,"H3":7.2e-11,"V1":3.0e-11,"V2":2.5e-11,"V3":4.4e-11},
      {"f":128,"H1":4.2e-11,"H2":3.8e-11,"H3":1.2e-10,"V1":4.3e-11,"V2":3.7e-11,"V3":8.4e-11},
      {"f":131,"H1":3.0e-11,"H2":3.9e-11,"H3":7.0e-11,"V1":2.9e-11,"V2":2.4e-11,"V3":8.2e-11},
      {"f":133,"H1":4.0e-11,"H2":2.7e-11,"H3":1.1e-10,"V1":4.1e-11,"V2":3.8e-11,"V3":4.2e-11},
      {"f":136,"H1":2.8e-11,"H2":3.7e-11,"H3":1.15e-10,"V1":3.0e-11,"V2":2.3e-11,"V3":8.6e-11},
      {"f":139,"H1":4.3e-11,"H2":2.6e-11,"H3":7.2e-11,"V1":4.3e-11,"V2":3.6e-11,"V3":4.0e-11},
      {"f":141,"H1":3.1e-11,"H2":4.0e-11,"H3":1.2e-10,"V1":2.9e-11,"V2":2.5e-11,"V3":8.0e-11},
      {"f":144,"H1":4.2e-11,"H2":2.8e-11,"H3":7.0e-11,"V1":4.1e-11,"V2":3.7e-11,"V3":4.4e-11},
      {"f":147,"H1":3.0e-11,"H2":3.8e-11,"H3":1.1e-10,"V1":3.0e-11,"V2":2.4e-11,"V3":8.4e-11},
      {"f":150,"H1":4.0e-11,"H2":3.9e-11,"H3":1.15e-10,"V1":4.3e-11,"V2":3.8e-11,"V3":8.2e-11},
      {"f":153,"H1":2.8e-11,"H2":2.7e-11,"H3":7.2e-11,"V1":2.9e-11,"V2":2.3e-11,"V3":4.2e-11},
      {"f":155,"H1":4.3e-11,"H2":3.7e-11,"H3":1.2e-10,"V1":4.1e-11,"V2":3.6e-11,"V3":8.6e-11},
      {"f":158,"H1":3.1e-11,"H2":2.6e-11,"H3":7.0e-11,"V1":1.37e-10,"V2":2.5e-11,"V3":4.0e-11},
      {"f":162,"H1":4.2e-11,"H2":4.0e-11,"H3":1.1e-10,"V1":4.3e-11,"V2":3.7e-11,"V3":8.0e-11},
      {"f":165,"H1":3.0e-11,"H2":2.8e-11,"H3":1.15e-10,"V1":2.9e-11,"V2":2.4e-11,"V3":4.4e-11},
      {"f":168,"H1":4.0e-11,"H2":3.8e-11,"H3":7.2e-11,"V1":4.1e-11,"V2":3.8e-11,"V3":8.4e-11},
      {"f":171,"H1":2.8e-11,"H2":3.9e-11,"H3":1.2e-10,"V1":3.0e-11,"V2":2.3e-11,"V3":8.2e-11},
      {"f":174,"H1":4.3e-11,"H2":2.7e-11,"H3":7.0e-11,"V1":4.3e-11,"V2":3.6e-11,"V3":4.2e-11},
      {"f":178,"H1":3.1e-11,"H2":3.7e-11,"H3":1.1e-10,"V1":2.9e-11,"V2":2.5e-11,"V3":2.4e-10},
      {"f":181,"H1":4.2e-11,"H2":2.6e-11,"H3":1.15e-10,"V1":4.1e-11,"V2":3.7e-11,"V3":4.0e-11},
      {"f":185,"H1":3.0e-11,"H2":4.0e-11,"H3":7.2e-11,"V1":3.0e-11,"V2":2.4e-11,"V3":8.0e-11},
      {"f":188,"H1":4.0e-11,"H2":2.8e-11,"H3":1.2e-10,"V1":4.3e-11,"V2":3.8e-11,"V3":4.4e-11},
      {"f":192,"H1":2.8e-11,"H2":3.8e-11,"H3":7.0e-11,"V1":2.9e-11,"V2":2.3e-11,"V3":8.4e-11},
      {"f":196,"H1":4.3e-11,"H2":3.9e-11,"H3":1.1e-10,"V1":4.1e-11,"V2":3.6e-11,"V3":8.2e-11},
      {"f":199,"H1":3.1e-11,"H2":2.7e-11,"H3":1.15e-10,"V1":3.0e-11,"V2":2.5e-11,"V3":4.2e-11}
    ]
  },
  "hconcat": [
    {
      "vconcat": [
        {
          "width": 1859,
          "height": 560,
          "title": {"text": "ITMX_ST1", "fontSize": 28, "offset": 2},
          "encoding": {
            "x": {
              "field": "f", "type": "quantitative",
              "scale": {"type": "log", "domain": [0.01, 200], "nice": false},
              "axis": {
                "title": "Freq (hz)", "titlePadding": 6,
                "values": [0.01,0.02,0.03,0.04,0.05,0.06,0.07,0.08,0.09,0.1,0.2,0.3,0.4,0.5,0.6,0.7,0.8,0.9,1,2,3,4,5,6,7,8,9,10,20,30,40,50,60,70,80,90,100,200],
                "labelExpr": "datum.value == 0.01 ? '10⁻²' : datum.value == 0.1 ? '10⁻¹' : datum.value == 1 ? '10⁰' : datum.value == 10 ? '10¹' : datum.value == 100 ? '10²' : ''",
                "tickSize": {"condition": {"test": "abs(log(datum.value)/LN10 - round(log(datum.value)/LN10)) < 0.01", "value": 5.5}, "value": 3}
              }
            },
            "y": {
              "field": "v", "type": "quantitative",
              "scale": {"type": "log", "domain": [1.43e-11, 7.3e-8], "nice": false},
              "axis": {
                "title": "m/rthz", "titlePadding": 4,
                "values": [2e-11,3e-11,4e-11,5e-11,6e-11,7e-11,8e-11,9e-11,1e-10,2e-10,3e-10,4e-10,5e-10,6e-10,7e-10,8e-10,9e-10,1e-9,2e-9,3e-9,4e-9,5e-9,6e-9,7e-9,8e-9,9e-9,1e-8,2e-8,3e-8,4e-8,5e-8,6e-8,7e-8],
                "labelExpr": "datum.value == 1e-8 ? '10⁻⁸' : datum.value == 1e-9 ? '10⁻⁹' : datum.value == 1e-10 ? '10⁻¹⁰' : ''",
                "tickSize": {"condition": {"test": "abs(log(datum.value)/LN10 - round(log(datum.value)/LN10)) < 0.01", "value": 5.5}, "value": 3}
              }
            },
            "color": {
              "field": "s", "type": "nominal",
              "scale": {
                "domain": ["H1", "H2", "H3", "V1", "V2", "V3", "ADE"],
                "range": ["#1f77b4", "#ff7f0e", "#2ca02c", "#d62728", "#9467bd", "#8c564b", "#e377c2"]
              },
              "legend": {"labelExpr": "datum.label == 'ADE' ? 'ADE 1mm noise' : 'ITMX_ST1_CPSINF_' + datum.label"}
            }
          },
          "layer": [
            {
              "data": {"name": "st1"},
              "transform": [{"fold": ["H1", "H2", "H3", "V1", "V2", "V3"], "as": ["s", "v"]}],
              "mark": {"type": "line", "strokeWidth": 3.5, "strokeJoin": "round", "clip": true}
            },
            {
              "data": {"name": "ade1"},
              "mark": {"type": "line", "strokeWidth": 3.5, "clip": true}
            }
          ]
        },
        {
          "width": 1859,
          "height": 560,
          "title": {"text": "ITMX_ST2", "fontSize": 28, "offset": 2},
          "encoding": {
            "x": {
              "field": "f", "type": "quantitative",
              "scale": {"type": "log", "domain": [0.01, 200], "nice": false},
              "axis": {
                "title": "Freq (hz)", "titlePadding": 6,
                "values": [0.01,0.02,0.03,0.04,0.05,0.06,0.07,0.08,0.09,0.1,0.2,0.3,0.4,0.5,0.6,0.7,0.8,0.9,1,2,3,4,5,6,7,8,9,10,20,30,40,50,60,70,80,90,100,200],
                "labelExpr": "datum.value == 0.01 ? '10⁻²' : datum.value == 0.1 ? '10⁻¹' : datum.value == 1 ? '10⁰' : datum.value == 10 ? '10¹' : datum.value == 100 ? '10²' : ''",
                "tickSize": {"condition": {"test": "abs(log(datum.value)/LN10 - round(log(datum.value)/LN10)) < 0.01", "value": 5.5}, "value": 3}
              }
            },
            "y": {
              "field": "v", "type": "quantitative",
              "scale": {"type": "log", "domain": [4.93e-12, 1.156e-7], "nice": false},
              "axis": {
                "title": "m/rthz", "titlePadding": 4,
                "values": [5e-12,6e-12,7e-12,8e-12,9e-12,1e-11,2e-11,3e-11,4e-11,5e-11,6e-11,7e-11,8e-11,9e-11,1e-10,2e-10,3e-10,4e-10,5e-10,6e-10,7e-10,8e-10,9e-10,1e-9,2e-9,3e-9,4e-9,5e-9,6e-9,7e-9,8e-9,9e-9,1e-8,2e-8,3e-8,4e-8,5e-8,6e-8,7e-8,8e-8,9e-8,1e-7],
                "labelExpr": "datum.value == 1e-7 ? '10⁻⁷' : datum.value == 1e-8 ? '10⁻⁸' : datum.value == 1e-9 ? '10⁻⁹' : datum.value == 1e-10 ? '10⁻¹⁰' : datum.value == 1e-11 ? '10⁻¹¹' : ''",
                "tickSize": {"condition": {"test": "abs(log(datum.value)/LN10 - round(log(datum.value)/LN10)) < 0.01", "value": 5.5}, "value": 3}
              }
            },
            "color": {
              "field": "s", "type": "nominal",
              "scale": {
                "domain": ["H1", "H2", "H3", "V1", "V2", "V3", "ADE"],
                "range": ["#1f77b4", "#ff7f0e", "#2ca02c", "#d62728", "#9467bd", "#8c564b", "#e377c2"]
              },
              "legend": {"labelExpr": "datum.label == 'ADE' ? 'ADE .25mm noise' : 'ITMX_ST2_CPSINF_' + datum.label"}
            }
          },
          "layer": [
            {
              "data": {"name": "st2"},
              "transform": [{"fold": ["H1", "H2", "H3", "V1", "V2", "V3"], "as": ["s", "v"]}],
              "mark": {"type": "line", "strokeWidth": 3.5, "strokeJoin": "round", "clip": true}
            },
            {
              "data": {"name": "ade2"},
              "mark": {"type": "line", "strokeWidth": 3.5, "clip": true}
            }
          ]
        }
      ],
      "spacing": 20,
      "resolve": {"scale": {"color": "independent"}, "legend": {"color": "independent"}}
    },
    {
      "width": 20,
      "height": 1330,
      "view": {"stroke": null},
      "data": {"values": [{"path": "/opt/rtcds/userapps/trunk/sys/h1/scripts/BSC_cps_spectra.py"}]},
      "mark": {"type": "text", "angle": 270, "fontSize": 15.5, "align": "center", "baseline": "middle", "color": "black"},
      "encoding": {"text": {"field": "path", "type": "nominal"}}
    }
  ],
  "spacing": 115
}
